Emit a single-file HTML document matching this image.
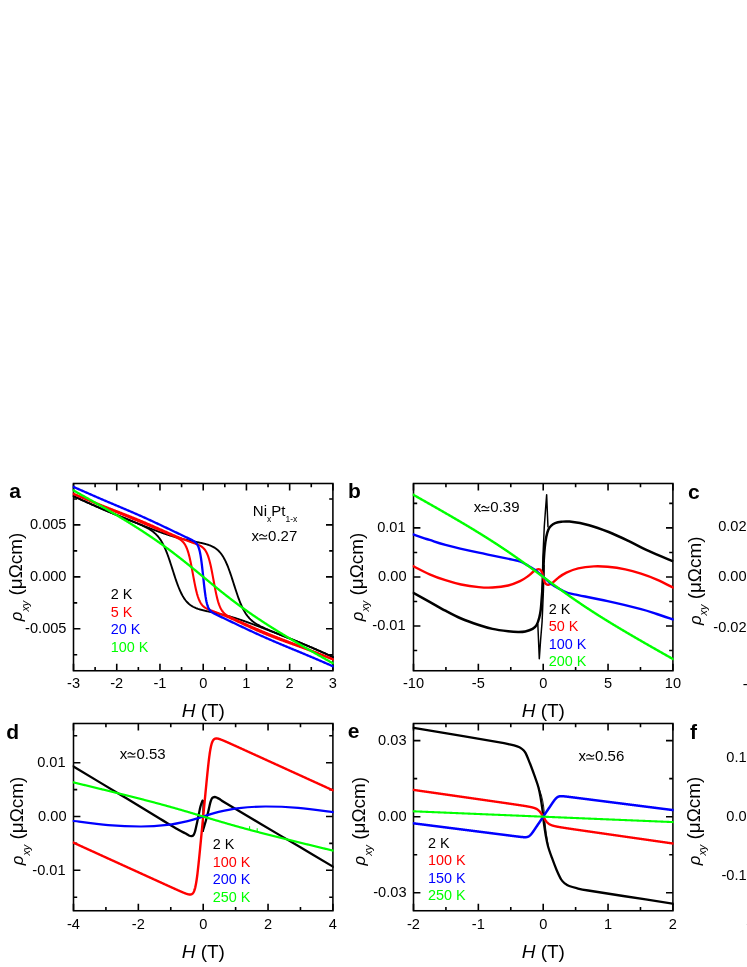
<!DOCTYPE html>
<html><head><meta charset="utf-8"><title>Figure</title>
<style>html,body{margin:0;padding:0;background:#fff;}svg{display:block;will-change:transform;}</style></head>
<body>
<svg width="747" height="967" viewBox="0 0 747 967" font-family='"Liberation Sans", sans-serif' fill="#000">
<rect width="747" height="967" fill="#fff"/>
<defs>
<clipPath id="ca"><rect x="72.70" y="482.70" width="261.00" height="188.85"/></clipPath>
<clipPath id="cb"><rect x="412.70" y="482.70" width="261.00" height="188.85"/></clipPath>
<clipPath id="cd"><rect x="72.70" y="722.70" width="261.00" height="188.85"/></clipPath>
<clipPath id="ce"><rect x="412.70" y="722.70" width="261.00" height="188.85"/></clipPath>
</defs>
<rect x="73.50" y="483.50" width="259.40" height="187.25" fill="none" stroke="#000" stroke-width="1.55"/>
<path d="M73.51,670.75 V663.85 M73.51,483.50 V490.40 M116.74,670.75 V663.85 M116.74,483.50 V490.40 M159.97,670.75 V663.85 M159.97,483.50 V490.40 M203.20,670.75 V663.85 M203.20,483.50 V490.40 M246.43,670.75 V663.85 M246.43,483.50 V490.40 M289.66,670.75 V663.85 M289.66,483.50 V490.40 M332.89,670.75 V663.85 M332.89,483.50 V490.40 M95.12,670.75 V667.05 M95.12,483.50 V487.20 M138.35,670.75 V667.05 M138.35,483.50 V487.20 M181.58,670.75 V667.05 M181.58,483.50 V487.20 M224.81,670.75 V667.05 M224.81,483.50 V487.20 M268.04,670.75 V667.05 M268.04,483.50 V487.20 M311.27,670.75 V667.05 M311.27,483.50 V487.20 M73.50,628.80 H80.40 M332.90,628.80 H326.00 M73.50,576.85 H80.40 M332.90,576.85 H326.00 M73.50,524.90 H80.40 M332.90,524.90 H326.00 M73.50,654.77 H77.20 M332.90,654.77 H329.20 M73.50,602.83 H77.20 M332.90,602.83 H329.20 M73.50,550.88 H77.20 M332.90,550.88 H329.20 M73.50,498.93 H77.20 M332.90,498.93 H329.20 " stroke="#000" stroke-width="1.6" fill="none"/>
<text x="73.51" y="688.45" text-anchor="middle" font-size="14.6">-3</text>
<text x="116.74" y="688.45" text-anchor="middle" font-size="14.6">-2</text>
<text x="159.97" y="688.45" text-anchor="middle" font-size="14.6">-1</text>
<text x="203.20" y="688.45" text-anchor="middle" font-size="14.6">0</text>
<text x="246.43" y="688.45" text-anchor="middle" font-size="14.6">1</text>
<text x="289.66" y="688.45" text-anchor="middle" font-size="14.6">2</text>
<text x="332.89" y="688.45" text-anchor="middle" font-size="14.6">3</text>
<text x="66.50" y="529.30" text-anchor="end" font-size="14.6">0.005</text>
<text x="66.50" y="581.25" text-anchor="end" font-size="14.6">0.000</text>
<text x="66.50" y="633.20" text-anchor="end" font-size="14.6">-0.005</text>
<text x="9.30" y="498.00" font-size="21" font-weight="bold">a</text>
<text transform="translate(21.70,577.00) rotate(-90)" text-anchor="middle" font-size="18.9"><tspan font-style="italic" font-size="16.8">ρ</tspan><tspan font-style="italic" font-size="10.8" dy="6.8">xy</tspan><tspan dy="-6.8"> (μΩcm)</tspan></text>
<text x="203.30" y="716.70" text-anchor="middle" font-size="19"><tspan font-style="italic">H</tspan> (T)</text>
<text x="110.70" y="598.90" font-size="14.4" fill="#000000">2 K</text>
<text x="110.70" y="616.50" font-size="14.4" fill="#ff0000">5 K</text>
<text x="110.70" y="634.10" font-size="14.4" fill="#0000ff">20 K</text>
<text x="110.70" y="651.70" font-size="14.4" fill="#00ff00">100 K</text>
<text x="252.8" y="516.4" font-size="15">Ni<tspan font-size="8.5" dy="5.4">x</tspan><tspan dy="-5.4">Pt</tspan><tspan font-size="8.5" dy="5.4">1-x</tspan></text>
<text x="251.50" y="540.60" font-size="15">x</text>
<path d="M259.30,536.10 c1.3,-1.9 2.6,-1.9 3.9,-0.7 s2.6,1.2 3.9,-0.7" fill="none" stroke="#000" stroke-width="1.1"/>
<path d="M259.30,538.80 h7.8" fill="none" stroke="#000" stroke-width="1.1"/>
<text x="268.10" y="540.60" font-size="15">0.27</text>
<rect x="413.50" y="483.50" width="259.40" height="187.25" fill="none" stroke="#000" stroke-width="1.55"/>
<path d="M413.50,670.75 V663.85 M413.50,483.50 V490.40 M478.35,670.75 V663.85 M478.35,483.50 V490.40 M543.20,670.75 V663.85 M543.20,483.50 V490.40 M608.05,670.75 V663.85 M608.05,483.50 V490.40 M672.90,670.75 V663.85 M672.90,483.50 V490.40 M445.93,670.75 V667.05 M445.93,483.50 V487.20 M510.78,670.75 V667.05 M510.78,483.50 V487.20 M575.62,670.75 V667.05 M575.62,483.50 V487.20 M640.48,670.75 V667.05 M640.48,483.50 V487.20 M413.50,626.00 H420.40 M672.90,626.00 H666.00 M413.50,576.95 H420.40 M672.90,576.95 H666.00 M413.50,527.90 H420.40 M672.90,527.90 H666.00 M413.50,650.53 H417.20 M672.90,650.53 H669.20 M413.50,601.48 H417.20 M672.90,601.48 H669.20 M413.50,552.43 H417.20 M672.90,552.43 H669.20 M413.50,503.38 H417.20 M672.90,503.38 H669.20 " stroke="#000" stroke-width="1.6" fill="none"/>
<text x="413.50" y="688.45" text-anchor="middle" font-size="14.6">-10</text>
<text x="478.35" y="688.45" text-anchor="middle" font-size="14.6">-5</text>
<text x="543.20" y="688.45" text-anchor="middle" font-size="14.6">0</text>
<text x="608.05" y="688.45" text-anchor="middle" font-size="14.6">5</text>
<text x="672.90" y="688.45" text-anchor="middle" font-size="14.6">10</text>
<text x="405.60" y="532.30" text-anchor="end" font-size="14.6">0.01</text>
<text x="406.50" y="581.35" text-anchor="end" font-size="14.6">0.00</text>
<text x="405.60" y="630.40" text-anchor="end" font-size="14.6">-0.01</text>
<text x="348.00" y="498.40" font-size="21" font-weight="bold">b</text>
<text transform="translate(362.50,577.00) rotate(-90)" text-anchor="middle" font-size="18.9"><tspan font-style="italic" font-size="16.8">ρ</tspan><tspan font-style="italic" font-size="10.8" dy="6.8">xy</tspan><tspan dy="-6.8"> (μΩcm)</tspan></text>
<text x="543.30" y="716.70" text-anchor="middle" font-size="19"><tspan font-style="italic">H</tspan> (T)</text>
<text x="548.70" y="613.60" font-size="14.4" fill="#000000">2 K</text>
<text x="548.70" y="631.20" font-size="14.4" fill="#ff0000">50 K</text>
<text x="548.70" y="648.80" font-size="14.4" fill="#0000ff">100 K</text>
<text x="548.70" y="666.40" font-size="14.4" fill="#00ff00">200 K</text>
<text x="473.70" y="512.40" font-size="15">x</text>
<path d="M481.50,507.90 c1.3,-1.9 2.6,-1.9 3.9,-0.7 s2.6,1.2 3.9,-0.7" fill="none" stroke="#000" stroke-width="1.1"/>
<path d="M481.50,510.60 h7.8" fill="none" stroke="#000" stroke-width="1.1"/>
<text x="490.30" y="512.40" font-size="15">0.39</text>
<rect x="73.50" y="723.50" width="259.40" height="187.25" fill="none" stroke="#000" stroke-width="1.55"/>
<path d="M73.50,910.75 V903.85 M73.50,723.50 V730.40 M138.35,910.75 V903.85 M138.35,723.50 V730.40 M203.20,910.75 V903.85 M203.20,723.50 V730.40 M268.05,910.75 V903.85 M268.05,723.50 V730.40 M332.90,910.75 V903.85 M332.90,723.50 V730.40 M105.92,910.75 V907.05 M105.92,723.50 V727.20 M170.77,910.75 V907.05 M170.77,723.50 V727.20 M235.62,910.75 V907.05 M235.62,723.50 V727.20 M300.47,910.75 V907.05 M300.47,723.50 V727.20 M73.50,870.30 H80.40 M332.90,870.30 H326.00 M73.50,816.50 H80.40 M332.90,816.50 H326.00 M73.50,762.70 H80.40 M332.90,762.70 H326.00 M73.50,897.20 H77.20 M332.90,897.20 H329.20 M73.50,843.40 H77.20 M332.90,843.40 H329.20 M73.50,789.60 H77.20 M332.90,789.60 H329.20 M73.50,735.80 H77.20 M332.90,735.80 H329.20 " stroke="#000" stroke-width="1.6" fill="none"/>
<text x="73.50" y="928.95" text-anchor="middle" font-size="14.6">-4</text>
<text x="138.35" y="928.95" text-anchor="middle" font-size="14.6">-2</text>
<text x="203.20" y="928.95" text-anchor="middle" font-size="14.6">0</text>
<text x="268.05" y="928.95" text-anchor="middle" font-size="14.6">2</text>
<text x="332.90" y="928.95" text-anchor="middle" font-size="14.6">4</text>
<text x="65.60" y="767.10" text-anchor="end" font-size="14.6">0.01</text>
<text x="66.50" y="820.90" text-anchor="end" font-size="14.6">0.00</text>
<text x="65.60" y="874.70" text-anchor="end" font-size="14.6">-0.01</text>
<text x="6.20" y="739.20" font-size="21" font-weight="bold">d</text>
<text transform="translate(22.70,821.00) rotate(-90)" text-anchor="middle" font-size="18.9"><tspan font-style="italic" font-size="16.8">ρ</tspan><tspan font-style="italic" font-size="10.8" dy="6.8">xy</tspan><tspan dy="-6.8"> (μΩcm)</tspan></text>
<text x="203.30" y="958.00" text-anchor="middle" font-size="19"><tspan font-style="italic">H</tspan> (T)</text>
<text x="212.70" y="848.90" font-size="14.4" fill="#000000">2 K</text>
<text x="212.70" y="866.50" font-size="14.4" fill="#ff0000">100 K</text>
<text x="212.70" y="884.10" font-size="14.4" fill="#0000ff">200 K</text>
<text x="212.70" y="901.70" font-size="14.4" fill="#00ff00">250 K</text>
<text x="119.80" y="758.70" font-size="15">x</text>
<path d="M127.60,754.20 c1.3,-1.9 2.6,-1.9 3.9,-0.7 s2.6,1.2 3.9,-0.7" fill="none" stroke="#000" stroke-width="1.1"/>
<path d="M127.60,756.90 h7.8" fill="none" stroke="#000" stroke-width="1.1"/>
<text x="136.40" y="758.70" font-size="15">0.53</text>
<rect x="413.50" y="723.50" width="259.40" height="187.25" fill="none" stroke="#000" stroke-width="1.55"/>
<path d="M413.50,910.75 V903.85 M413.50,723.50 V730.40 M478.35,910.75 V903.85 M478.35,723.50 V730.40 M543.20,910.75 V903.85 M543.20,723.50 V730.40 M608.05,910.75 V903.85 M608.05,723.50 V730.40 M672.90,910.75 V903.85 M672.90,723.50 V730.40 M445.93,910.75 V907.05 M445.93,723.50 V727.20 M510.78,910.75 V907.05 M510.78,723.50 V727.20 M575.62,910.75 V907.05 M575.62,723.50 V727.20 M640.48,910.75 V907.05 M640.48,723.50 V727.20 M413.50,892.81 H420.40 M672.90,892.81 H666.00 M413.50,816.70 H420.40 M672.90,816.70 H666.00 M413.50,740.59 H420.40 M672.90,740.59 H666.00 M413.50,854.75 H417.20 M672.90,854.75 H669.20 M413.50,778.65 H417.20 M672.90,778.65 H669.20 " stroke="#000" stroke-width="1.6" fill="none"/>
<text x="413.50" y="928.95" text-anchor="middle" font-size="14.6">-2</text>
<text x="478.35" y="928.95" text-anchor="middle" font-size="14.6">-1</text>
<text x="543.20" y="928.95" text-anchor="middle" font-size="14.6">0</text>
<text x="608.05" y="928.95" text-anchor="middle" font-size="14.6">1</text>
<text x="672.90" y="928.95" text-anchor="middle" font-size="14.6">2</text>
<text x="406.50" y="744.99" text-anchor="end" font-size="14.6">0.03</text>
<text x="406.50" y="821.10" text-anchor="end" font-size="14.6">0.00</text>
<text x="406.50" y="897.21" text-anchor="end" font-size="14.6">-0.03</text>
<text x="347.70" y="738.40" font-size="21" font-weight="bold">e</text>
<text transform="translate(365.40,821.20) rotate(-90)" text-anchor="middle" font-size="18.9"><tspan font-style="italic" font-size="16.8">ρ</tspan><tspan font-style="italic" font-size="10.8" dy="6.8">xy</tspan><tspan dy="-6.8"> (μΩcm)</tspan></text>
<text x="543.30" y="958.00" text-anchor="middle" font-size="19"><tspan font-style="italic">H</tspan> (T)</text>
<text x="428.00" y="847.50" font-size="14.4" fill="#000000">2 K</text>
<text x="428.00" y="865.10" font-size="14.4" fill="#ff0000">100 K</text>
<text x="428.00" y="882.70" font-size="14.4" fill="#0000ff">150 K</text>
<text x="428.00" y="900.30" font-size="14.4" fill="#00ff00">250 K</text>
<text x="578.50" y="760.70" font-size="15">x</text>
<path d="M586.30,756.20 c1.3,-1.9 2.6,-1.9 3.9,-0.7 s2.6,1.2 3.9,-0.7" fill="none" stroke="#000" stroke-width="1.1"/>
<path d="M586.30,758.90 h7.8" fill="none" stroke="#000" stroke-width="1.1"/>
<text x="595.10" y="760.70" font-size="15">0.56</text>
<text x="688.00" y="499.30" font-size="21" font-weight="bold">c</text>
<text transform="translate(700.60,580.80) rotate(-90)" text-anchor="middle" font-size="18.9"><tspan font-style="italic" font-size="16.8">ρ</tspan><tspan font-style="italic" font-size="10.8" dy="6.8">xy</tspan><tspan dy="-6.8"> (μΩcm)</tspan></text>
<text x="746.6" y="530.80" text-anchor="end" font-size="14.6">0.02</text>
<text x="746.6" y="581.30" text-anchor="end" font-size="14.6">0.00</text>
<text x="746.6" y="631.70" text-anchor="end" font-size="14.6">-0.02</text>
<text x="742.8" y="689.0" font-size="14.6">-10</text>
<text x="690.00" y="738.70" font-size="21" font-weight="bold">f</text>
<text transform="translate(699.60,821.00) rotate(-90)" text-anchor="middle" font-size="18.9"><tspan font-style="italic" font-size="16.8">ρ</tspan><tspan font-style="italic" font-size="10.8" dy="6.8">xy</tspan><tspan dy="-6.8"> (μΩcm)</tspan></text>
<text x="746.6" y="761.70" text-anchor="end" font-size="14.6">0.1</text>
<text x="746.6" y="820.80" text-anchor="end" font-size="14.6">0.0</text>
<text x="746.6" y="879.80" text-anchor="end" font-size="14.6">-0.1</text>
<text x="746.3" y="929.0" font-size="14.6">-2</text>
<path d="M72.50,495.72 L73.00,495.95 L73.50,496.18 L74.00,496.41 L74.50,496.64 L75.00,496.87 L75.50,497.10 L76.00,497.32 L76.50,497.55 L77.00,497.78 L77.50,498.01 L78.00,498.24 L78.50,498.47 L79.00,498.70 L79.50,498.92 L80.00,499.15 L80.50,499.38 L81.00,499.61 L81.50,499.84 L82.00,500.07 L82.50,500.29 L83.00,500.52 L83.50,500.75 L84.00,500.98 L84.50,501.20 L85.00,501.43 L85.50,501.66 L86.00,501.88 L86.50,502.11 L87.00,502.34 L87.50,502.56 L88.00,502.79 L88.50,503.02 L89.00,503.24 L89.50,503.47 L90.00,503.69 L90.50,503.91 L91.00,504.14 L91.50,504.36 L92.00,504.59 L92.50,504.81 L93.00,505.03 L93.50,505.25 L94.00,505.48 L94.50,505.70 L95.00,505.92 L95.50,506.14 L96.00,506.36 L96.50,506.58 L97.00,506.80 L97.50,507.02 L98.00,507.24 L98.50,507.46 L99.00,507.68 L99.50,507.89 L100.00,508.11 L100.50,508.33 L101.00,508.54 L101.50,508.76 L102.00,508.97 L102.50,509.19 L103.00,509.40 L103.50,509.62 L104.00,509.83 L104.50,510.04 L105.00,510.26 L105.50,510.47 L106.00,510.68 L106.50,510.89 L107.00,511.10 L107.50,511.31 L108.00,511.52 L108.50,511.73 L109.00,511.94 L109.50,512.15 L110.00,512.36 L110.50,512.56 L111.00,512.77 L111.50,512.98 L112.00,513.18 L112.50,513.39 L113.00,513.60 L113.50,513.80 L114.00,514.01 L114.50,514.21 L115.00,514.42 L115.50,514.62 L116.00,514.82 L116.50,515.03 L117.00,515.23 L117.50,515.43 L118.00,515.64 L118.50,515.84 L119.00,516.04 L119.50,516.24 L120.00,516.44 L120.50,516.65 L121.00,516.85 L121.50,517.05 L122.00,517.25 L122.50,517.45 L123.00,517.65 L123.50,517.85 L124.00,518.05 L124.50,518.25 L125.00,518.45 L125.50,518.65 L126.00,518.85 L126.50,519.05 L127.00,519.25 L127.50,519.45 L128.00,519.65 L128.50,519.85 L129.00,520.05 L129.50,520.25 L130.00,520.45 L130.50,520.65 L131.00,520.85 L131.50,521.05 L132.00,521.25 L132.50,521.44 L133.00,521.64 L133.50,521.84 L134.00,522.04 L134.50,522.24 L135.00,522.44 L135.50,522.64 L136.00,522.84 L136.50,523.04 L137.00,523.23 L137.50,523.43 L138.00,523.63 L138.50,523.83 L139.00,524.03 L139.50,524.23 L140.00,524.42 L140.50,524.62 L141.00,524.82 L141.50,525.02 L142.00,525.22 L142.50,525.41 L143.00,525.61 L143.50,525.81 L144.00,526.01 L144.50,526.20 L145.00,526.40 L145.50,526.60 L146.00,526.79 L146.50,526.99 L147.00,527.18 L147.50,527.38 L148.00,527.57 L148.50,527.77 L149.00,527.96 L149.50,528.16 L150.00,528.35 L150.50,528.54 L151.00,528.73 L151.50,528.93 L152.00,529.12 L152.50,529.31 L153.00,529.50 L153.50,529.69 L154.00,529.88 L154.50,530.07 L155.00,530.26 L155.50,530.44 L156.00,530.63 L156.50,530.82 L157.00,531.00 L157.50,531.19 L158.00,531.37 L158.50,531.55 L159.00,531.74 L159.50,531.92 L160.00,532.10 L160.50,532.28 L161.00,532.45 L161.50,532.63 L162.00,532.81 L162.50,532.98 L163.00,533.16 L163.50,533.33 L164.00,533.50 L164.50,533.68 L165.00,533.85 L165.50,534.01 L166.00,534.18 L166.50,534.35 L167.00,534.51 L167.50,534.68 L168.00,534.84 L168.50,535.00 L169.00,535.16 L169.50,535.32 L170.00,535.48 L170.50,535.64 L171.00,535.79 L171.50,535.95 L172.00,536.10 L172.50,536.25 L173.00,536.40 L173.50,536.55 L174.00,536.69 L174.50,536.84 L175.00,536.98 L175.50,537.12 L176.00,537.26 L176.50,537.40 L177.00,537.54 L177.50,537.68 L178.00,537.81 L178.50,537.95 L179.00,538.08 L179.50,538.21 L180.00,538.34 L180.50,538.47 L181.00,538.59 L181.50,538.72 L182.00,538.84 L182.50,538.97 L183.00,539.09 L183.50,539.21 L184.00,539.33 L184.50,539.44 L185.00,539.56 L185.50,539.67 L186.00,539.79 L186.50,539.90 L187.00,540.01 L187.50,540.12 L188.00,540.23 L188.50,540.34 L189.00,540.45 L189.50,540.55 L190.00,540.66 L190.50,540.77 L191.00,540.87 L191.50,540.97 L192.00,541.08 L192.50,541.18 L193.00,541.28 L193.50,541.38 L194.00,541.48 L194.50,541.59 L195.00,541.69 L195.50,541.79 L196.00,541.89 L196.50,541.99 L197.00,542.09 L197.50,542.19 L198.00,542.30 L198.50,542.40 L199.00,542.50 L199.50,542.61 L200.00,542.72 L200.50,542.82 L201.00,542.93 L201.50,543.04 L202.00,543.16 L202.50,543.27 L203.00,543.39 L203.50,543.51 L204.00,543.63 L204.50,543.76 L205.00,543.89 L205.50,544.02 L206.00,544.16 L206.50,544.31 L207.00,544.45 L207.50,544.61 L208.00,544.77 L208.50,544.93 L209.00,545.11 L209.50,545.29 L210.00,545.48 L210.50,545.67 L211.00,545.88 L211.50,546.10 L212.00,546.33 L212.50,546.57 L213.00,546.82 L213.50,547.09 L214.00,547.37 L214.50,547.67 L215.00,547.99 L215.50,548.32 L216.00,548.68 L216.50,549.05 L217.00,549.45 L217.50,549.87 L218.00,550.32 L218.50,550.79 L219.00,551.29 L219.50,551.83 L220.00,552.39 L220.50,552.99 L221.00,553.62 L221.50,554.29 L222.00,555.00 L222.50,555.75 L223.00,556.54 L223.50,557.38 L224.00,558.25 L224.50,559.18 L225.00,560.15 L225.50,561.16 L226.00,562.23 L226.50,563.34 L227.00,564.50 L227.50,565.70 L228.00,566.95 L228.50,568.25 L229.00,569.59 L229.50,570.96 L230.00,572.38 L230.50,573.83 L231.00,575.31 L231.50,576.81 L232.00,578.34 L232.50,579.89 L233.00,581.45 L233.50,583.01 L234.00,584.59 L234.50,586.16 L235.00,587.72 L235.50,589.27 L236.00,590.81 L236.50,592.32 L237.00,593.81 L237.50,595.27 L238.00,596.70 L238.50,598.10 L239.00,599.45 L239.50,600.77 L240.00,602.04 L240.50,603.27 L241.00,604.46 L241.50,605.60 L242.00,606.70 L242.50,607.75 L243.00,608.76 L243.50,609.73 L244.00,610.65 L244.50,611.53 L245.00,612.37 L245.50,613.17 L246.00,613.94 L246.50,614.66 L247.00,615.36 L247.50,616.02 L248.00,616.64 L248.50,617.24 L249.00,617.81 L249.50,618.36 L250.00,618.88 L250.50,619.38 L251.00,619.85 L251.50,620.31 L252.00,620.74 L252.50,621.16 L253.00,621.56 L253.50,621.95 L254.00,622.32 L254.50,622.68 L255.00,623.02 L255.50,623.36 L256.00,623.68 L256.50,623.99 L257.00,624.30 L257.50,624.59 L258.00,624.88 L258.50,625.16 L259.00,625.44 L259.50,625.71 L260.00,625.97 L260.50,626.23 L261.00,626.48 L261.50,626.73 L262.00,626.97 L262.50,627.21 L263.00,627.45 L263.50,627.68 L264.00,627.91 L264.50,628.14 L265.00,628.36 L265.50,628.59 L266.00,628.81 L266.50,629.03 L267.00,629.24 L267.50,629.46 L268.00,629.67 L268.50,629.89 L269.00,630.10 L269.50,630.31 L270.00,630.52 L270.50,630.72 L271.00,630.93 L271.50,631.14 L272.00,631.34 L272.50,631.55 L273.00,631.75 L273.50,631.96 L274.00,632.16 L274.50,632.36 L275.00,632.56 L275.50,632.76 L276.00,632.96 L276.50,633.17 L277.00,633.37 L277.50,633.57 L278.00,633.77 L278.50,633.97 L279.00,634.17 L279.50,634.36 L280.00,634.56 L280.50,634.76 L281.00,634.96 L281.50,635.16 L282.00,635.36 L282.50,635.56 L283.00,635.76 L283.50,635.96 L284.00,636.15 L284.50,636.35 L285.00,636.55 L285.50,636.75 L286.00,636.95 L286.50,637.15 L287.00,637.35 L287.50,637.55 L288.00,637.75 L288.50,637.95 L289.00,638.15 L289.50,638.35 L290.00,638.55 L290.50,638.75 L291.00,638.95 L291.50,639.15 L292.00,639.35 L292.50,639.55 L293.00,639.75 L293.50,639.95 L294.00,640.16 L294.50,640.36 L295.00,640.56 L295.50,640.76 L296.00,640.97 L296.50,641.17 L297.00,641.37 L297.50,641.58 L298.00,641.78 L298.50,641.99 L299.00,642.19 L299.50,642.40 L300.00,642.60 L300.50,642.81 L301.00,643.02 L301.50,643.22 L302.00,643.43 L302.50,643.64 L303.00,643.85 L303.50,644.05 L304.00,644.26 L304.50,644.47 L305.00,644.68 L305.50,644.89 L306.00,645.10 L306.50,645.31 L307.00,645.52 L307.50,645.74 L308.00,645.95 L308.50,646.16 L309.00,646.37 L309.50,646.59 L310.00,646.80 L310.50,647.01 L311.00,647.23 L311.50,647.44 L312.00,647.66 L312.50,647.88 L313.00,648.09 L313.50,648.31 L314.00,648.53 L314.50,648.74 L315.00,648.96 L315.50,649.18 L316.00,649.40 L316.50,649.62 L317.00,649.84 L317.50,650.06 L318.00,650.28 L318.50,650.50 L319.00,650.72 L319.50,650.94 L320.00,651.16 L320.50,651.38 L321.00,651.61 L321.50,651.83 L322.00,652.05 L322.50,652.27 L323.00,652.50 L323.50,652.72 L324.00,652.95 L324.50,653.17 L325.00,653.40 L325.50,653.62 L326.00,653.85 L326.50,654.07 L327.00,654.30 L327.50,654.53 L328.00,654.76 L328.50,654.98 L329.00,655.21 L329.50,655.44 L330.00,655.67 L330.50,655.89 L331.00,656.12 L331.50,656.35 L332.00,656.58 L332.50,656.81 L333.00,657.04 L333.50,657.27 L333.90,657.45" fill="none" stroke="#000000" stroke-width="1.90" stroke-linejoin="round" stroke-linecap="butt" clip-path="url(#ca)"/>
<path d="M72.50,495.71 L73.00,495.94 L73.50,496.17 L74.00,496.39 L74.50,496.62 L75.00,496.85 L75.50,497.08 L76.00,497.31 L76.50,497.53 L77.00,497.76 L77.50,497.99 L78.00,498.22 L78.50,498.45 L79.00,498.67 L79.50,498.90 L80.00,499.13 L80.50,499.36 L81.00,499.58 L81.50,499.81 L82.00,500.04 L82.50,500.26 L83.00,500.49 L83.50,500.72 L84.00,500.94 L84.50,501.17 L85.00,501.40 L85.50,501.62 L86.00,501.85 L86.50,502.07 L87.00,502.30 L87.50,502.52 L88.00,502.75 L88.50,502.97 L89.00,503.20 L89.50,503.42 L90.00,503.65 L90.50,503.87 L91.00,504.09 L91.50,504.31 L92.00,504.54 L92.50,504.76 L93.00,504.98 L93.50,505.20 L94.00,505.42 L94.50,505.64 L95.00,505.86 L95.50,506.08 L96.00,506.30 L96.50,506.52 L97.00,506.74 L97.50,506.95 L98.00,507.17 L98.50,507.39 L99.00,507.60 L99.50,507.82 L100.00,508.03 L100.50,508.25 L101.00,508.46 L101.50,508.68 L102.00,508.89 L102.50,509.10 L103.00,509.32 L103.50,509.53 L104.00,509.74 L104.50,509.95 L105.00,510.16 L105.50,510.37 L106.00,510.58 L106.50,510.79 L107.00,511.00 L107.50,511.21 L108.00,511.41 L108.50,511.62 L109.00,511.83 L109.50,512.04 L110.00,512.24 L110.50,512.45 L111.00,512.65 L111.50,512.86 L112.00,513.06 L112.50,513.27 L113.00,513.47 L113.50,513.67 L114.00,513.88 L114.50,514.08 L115.00,514.28 L115.50,514.49 L116.00,514.69 L116.50,514.89 L117.00,515.09 L117.50,515.29 L118.00,515.50 L118.50,515.70 L119.00,515.90 L119.50,516.10 L120.00,516.30 L120.50,516.50 L121.00,516.70 L121.50,516.90 L122.00,517.10 L122.50,517.30 L123.00,517.50 L123.50,517.70 L124.00,517.90 L124.50,518.10 L125.00,518.30 L125.50,518.50 L126.00,518.70 L126.50,518.90 L127.00,519.10 L127.50,519.31 L128.00,519.51 L128.50,519.71 L129.00,519.91 L129.50,520.11 L130.00,520.31 L130.50,520.52 L131.00,520.72 L131.50,520.92 L132.00,521.13 L132.50,521.33 L133.00,521.54 L133.50,521.74 L134.00,521.95 L134.50,522.16 L135.00,522.36 L135.50,522.57 L136.00,522.78 L136.50,522.99 L137.00,523.20 L137.50,523.42 L138.00,523.63 L138.50,523.85 L139.00,524.06 L139.50,524.28 L140.00,524.50 L140.50,524.72 L141.00,524.95 L141.50,525.17 L142.00,525.40 L142.50,525.63 L143.00,525.87 L143.50,526.11 L144.00,526.35 L144.50,526.59 L145.00,526.84 L145.50,527.09 L146.00,527.35 L146.50,527.61 L147.00,527.88 L147.50,528.15 L148.00,528.43 L148.50,528.71 L149.00,529.01 L149.50,529.31 L150.00,529.62 L150.50,529.94 L151.00,530.27 L151.50,530.60 L152.00,530.96 L152.50,531.32 L153.00,531.70 L153.50,532.09 L154.00,532.50 L154.50,532.92 L155.00,533.37 L155.50,533.83 L156.00,534.31 L156.50,534.81 L157.00,535.34 L157.50,535.90 L158.00,536.48 L158.50,537.08 L159.00,537.72 L159.50,538.39 L160.00,539.10 L160.50,539.83 L161.00,540.61 L161.50,541.42 L162.00,542.27 L162.50,543.16 L163.00,544.10 L163.50,545.07 L164.00,546.09 L164.50,547.16 L165.00,548.27 L165.50,549.42 L166.00,550.62 L166.50,551.86 L167.00,553.15 L167.50,554.48 L168.00,555.84 L168.50,557.25 L169.00,558.69 L169.50,560.16 L170.00,561.65 L170.50,563.18 L171.00,564.72 L171.50,566.27 L172.00,567.84 L172.50,569.41 L173.00,570.99 L173.50,572.56 L174.00,574.12 L174.50,575.66 L175.00,577.19 L175.50,578.69 L176.00,580.17 L176.50,581.61 L177.00,583.02 L177.50,584.39 L178.00,585.72 L178.50,587.01 L179.00,588.25 L179.50,589.45 L180.00,590.60 L180.50,591.70 L181.00,592.76 L181.50,593.77 L182.00,594.73 L182.50,595.65 L183.00,596.52 L183.50,597.35 L184.00,598.13 L184.50,598.87 L185.00,599.57 L185.50,600.24 L186.00,600.87 L186.50,601.46 L187.00,602.02 L187.50,602.55 L188.00,603.04 L188.50,603.51 L189.00,603.96 L189.50,604.37 L190.00,604.77 L190.50,605.14 L191.00,605.49 L191.50,605.82 L192.00,606.14 L192.50,606.43 L193.00,606.72 L193.50,606.98 L194.00,607.23 L194.50,607.47 L195.00,607.70 L195.50,607.92 L196.00,608.13 L196.50,608.32 L197.00,608.51 L197.50,608.69 L198.00,608.87 L198.50,609.03 L199.00,609.19 L199.50,609.34 L200.00,609.49 L200.50,609.64 L201.00,609.78 L201.50,609.91 L202.00,610.04 L202.50,610.17 L203.00,610.29 L203.50,610.41 L204.00,610.53 L204.50,610.65 L205.00,610.76 L205.50,610.88 L206.00,610.99 L206.50,611.10 L207.00,611.21 L207.50,611.31 L208.00,611.42 L208.50,611.52 L209.00,611.63 L209.50,611.73 L210.00,611.84 L210.50,611.94 L211.00,612.04 L211.50,612.15 L212.00,612.25 L212.50,612.35 L213.00,612.46 L213.50,612.56 L214.00,612.67 L214.50,612.77 L215.00,612.88 L215.50,612.98 L216.00,613.09 L216.50,613.20 L217.00,613.30 L217.50,613.41 L218.00,613.52 L218.50,613.64 L219.00,613.75 L219.50,613.86 L220.00,613.97 L220.50,614.09 L221.00,614.21 L221.50,614.32 L222.00,614.44 L222.50,614.56 L223.00,614.68 L223.50,614.81 L224.00,614.93 L224.50,615.06 L225.00,615.18 L225.50,615.31 L226.00,615.44 L226.50,615.57 L227.00,615.70 L227.50,615.84 L228.00,615.97 L228.50,616.11 L229.00,616.25 L229.50,616.39 L230.00,616.53 L230.50,616.67 L231.00,616.81 L231.50,616.96 L232.00,617.10 L232.50,617.25 L233.00,617.40 L233.50,617.55 L234.00,617.70 L234.50,617.85 L235.00,618.01 L235.50,618.16 L236.00,618.32 L236.50,618.48 L237.00,618.64 L237.50,618.80 L238.00,618.96 L238.50,619.13 L239.00,619.29 L239.50,619.46 L240.00,619.62 L240.50,619.79 L241.00,619.96 L241.50,620.13 L242.00,620.30 L242.50,620.47 L243.00,620.65 L243.50,620.82 L244.00,621.00 L244.50,621.17 L245.00,621.35 L245.50,621.53 L246.00,621.71 L246.50,621.89 L247.00,622.07 L247.50,622.25 L248.00,622.43 L248.50,622.62 L249.00,622.80 L249.50,622.98 L250.00,623.17 L250.50,623.35 L251.00,623.54 L251.50,623.73 L252.00,623.91 L252.50,624.10 L253.00,624.29 L253.50,624.48 L254.00,624.67 L254.50,624.86 L255.00,625.05 L255.50,625.24 L256.00,625.43 L256.50,625.62 L257.00,625.81 L257.50,626.01 L258.00,626.20 L258.50,626.39 L259.00,626.58 L259.50,626.78 L260.00,626.97 L260.50,627.16 L261.00,627.36 L261.50,627.55 L262.00,627.75 L262.50,627.94 L263.00,628.14 L263.50,628.33 L264.00,628.52 L264.50,628.72 L265.00,628.91 L265.50,629.11 L266.00,629.30 L266.50,629.50 L267.00,629.69 L267.50,629.89 L268.00,630.08 L268.50,630.28 L269.00,630.47 L269.50,630.67 L270.00,630.86 L270.50,631.06 L271.00,631.25 L271.50,631.45 L272.00,631.64 L272.50,631.84 L273.00,632.03 L273.50,632.23 L274.00,632.42 L274.50,632.62 L275.00,632.81 L275.50,633.01 L276.00,633.20 L276.50,633.40 L277.00,633.59 L277.50,633.79 L278.00,633.98 L278.50,634.18 L279.00,634.37 L279.50,634.57 L280.00,634.76 L280.50,634.96 L281.00,635.15 L281.50,635.35 L282.00,635.54 L282.50,635.74 L283.00,635.93 L283.50,636.13 L284.00,636.33 L284.50,636.52 L285.00,636.72 L285.50,636.91 L286.00,637.11 L286.50,637.31 L287.00,637.50 L287.50,637.70 L288.00,637.90 L288.50,638.09 L289.00,638.29 L289.50,638.49 L290.00,638.69 L290.50,638.88 L291.00,639.08 L291.50,639.28 L292.00,639.48 L292.50,639.68 L293.00,639.88 L293.50,640.08 L294.00,640.28 L294.50,640.48 L295.00,640.68 L295.50,640.88 L296.00,641.08 L296.50,641.28 L297.00,641.48 L297.50,641.68 L298.00,641.88 L298.50,642.09 L299.00,642.29 L299.50,642.49 L300.00,642.70 L300.50,642.90 L301.00,643.11 L301.50,643.31 L302.00,643.52 L302.50,643.72 L303.00,643.93 L303.50,644.13 L304.00,644.34 L304.50,644.55 L305.00,644.76 L305.50,644.96 L306.00,645.17 L306.50,645.38 L307.00,645.59 L307.50,645.80 L308.00,646.01 L308.50,646.22 L309.00,646.43 L309.50,646.65 L310.00,646.86 L310.50,647.07 L311.00,647.28 L311.50,647.50 L312.00,647.71 L312.50,647.93 L313.00,648.14 L313.50,648.36 L314.00,648.57 L314.50,648.79 L315.00,649.00 L315.50,649.22 L316.00,649.44 L316.50,649.66 L317.00,649.87 L317.50,650.09 L318.00,650.31 L318.50,650.53 L319.00,650.75 L319.50,650.97 L320.00,651.19 L320.50,651.41 L321.00,651.64 L321.50,651.86 L322.00,652.08 L322.50,652.30 L323.00,652.52 L323.50,652.75 L324.00,652.97 L324.50,653.20 L325.00,653.42 L325.50,653.65 L326.00,653.87 L326.50,654.10 L327.00,654.32 L327.50,654.55 L328.00,654.77 L328.50,655.00 L329.00,655.23 L329.50,655.45 L330.00,655.68 L330.50,655.91 L331.00,656.14 L331.50,656.37 L332.00,656.60 L332.50,656.82 L333.00,657.05 L333.50,657.28 L333.90,657.47" fill="none" stroke="#000000" stroke-width="1.90" stroke-linejoin="round" stroke-linecap="butt" clip-path="url(#ca)"/>
<path d="M72.50,493.45 L73.00,493.65 L73.50,493.86 L74.00,494.06 L74.50,494.26 L75.00,494.47 L75.50,494.67 L76.00,494.88 L76.50,495.08 L77.00,495.28 L77.50,495.49 L78.00,495.69 L78.50,495.90 L79.00,496.10 L79.50,496.30 L80.00,496.51 L80.50,496.71 L81.00,496.92 L81.50,497.12 L82.00,497.33 L82.50,497.53 L83.00,497.74 L83.50,497.94 L84.00,498.14 L84.50,498.35 L85.00,498.55 L85.50,498.76 L86.00,498.96 L86.50,499.17 L87.00,499.37 L87.50,499.57 L88.00,499.78 L88.50,499.98 L89.00,500.18 L89.50,500.39 L90.00,500.59 L90.50,500.79 L91.00,501.00 L91.50,501.20 L92.00,501.40 L92.50,501.61 L93.00,501.81 L93.50,502.01 L94.00,502.21 L94.50,502.41 L95.00,502.62 L95.50,502.82 L96.00,503.02 L96.50,503.22 L97.00,503.42 L97.50,503.62 L98.00,503.82 L98.50,504.02 L99.00,504.22 L99.50,504.42 L100.00,504.62 L100.50,504.82 L101.00,505.02 L101.50,505.21 L102.00,505.41 L102.50,505.61 L103.00,505.81 L103.50,506.01 L104.00,506.20 L104.50,506.40 L105.00,506.60 L105.50,506.79 L106.00,506.99 L106.50,507.19 L107.00,507.38 L107.50,507.58 L108.00,507.77 L108.50,507.97 L109.00,508.16 L109.50,508.36 L110.00,508.55 L110.50,508.75 L111.00,508.94 L111.50,509.14 L112.00,509.33 L112.50,509.53 L113.00,509.72 L113.50,509.91 L114.00,510.11 L114.50,510.30 L115.00,510.50 L115.50,510.69 L116.00,510.88 L116.50,511.08 L117.00,511.27 L117.50,511.47 L118.00,511.66 L118.50,511.85 L119.00,512.05 L119.50,512.24 L120.00,512.44 L120.50,512.63 L121.00,512.83 L121.50,513.02 L122.00,513.22 L122.50,513.41 L123.00,513.61 L123.50,513.80 L124.00,514.00 L124.50,514.19 L125.00,514.39 L125.50,514.59 L126.00,514.78 L126.50,514.98 L127.00,515.18 L127.50,515.37 L128.00,515.57 L128.50,515.77 L129.00,515.97 L129.50,516.17 L130.00,516.37 L130.50,516.57 L131.00,516.77 L131.50,516.97 L132.00,517.17 L132.50,517.37 L133.00,517.57 L133.50,517.77 L134.00,517.98 L134.50,518.18 L135.00,518.38 L135.50,518.59 L136.00,518.79 L136.50,519.00 L137.00,519.20 L137.50,519.41 L138.00,519.61 L138.50,519.82 L139.00,520.03 L139.50,520.23 L140.00,520.44 L140.50,520.65 L141.00,520.86 L141.50,521.07 L142.00,521.28 L142.50,521.49 L143.00,521.70 L143.50,521.91 L144.00,522.13 L144.50,522.34 L145.00,522.55 L145.50,522.77 L146.00,522.98 L146.50,523.19 L147.00,523.41 L147.50,523.62 L148.00,523.84 L148.50,524.06 L149.00,524.27 L149.50,524.49 L150.00,524.71 L150.50,524.93 L151.00,525.15 L151.50,525.36 L152.00,525.58 L152.50,525.80 L153.00,526.02 L153.50,526.24 L154.00,526.46 L154.50,526.68 L155.00,526.91 L155.50,527.13 L156.00,527.35 L156.50,527.57 L157.00,527.79 L157.50,528.01 L158.00,528.24 L158.50,528.46 L159.00,528.68 L159.50,528.91 L160.00,529.13 L160.50,529.35 L161.00,529.57 L161.50,529.80 L162.00,530.02 L162.50,530.24 L163.00,530.47 L163.50,530.69 L164.00,530.91 L164.50,531.14 L165.00,531.36 L165.50,531.58 L166.00,531.81 L166.50,532.03 L167.00,532.25 L167.50,532.47 L168.00,532.70 L168.50,532.92 L169.00,533.14 L169.50,533.36 L170.00,533.58 L170.50,533.80 L171.00,534.02 L171.50,534.24 L172.00,534.46 L172.50,534.68 L173.00,534.89 L173.50,535.11 L174.00,535.33 L174.50,535.54 L175.00,535.76 L175.50,535.97 L176.00,536.19 L176.50,536.40 L177.00,536.61 L177.50,536.82 L178.00,537.03 L178.50,537.24 L179.00,537.45 L179.50,537.66 L180.00,537.86 L180.50,538.07 L181.00,538.27 L181.50,538.48 L182.00,538.68 L182.50,538.88 L183.00,539.08 L183.50,539.28 L184.00,539.47 L184.50,539.67 L185.00,539.86 L185.50,540.06 L186.00,540.25 L186.50,540.44 L187.00,540.63 L187.50,540.82 L188.00,541.00 L188.50,541.19 L189.00,541.37 L189.50,541.56 L190.00,541.74 L190.50,541.92 L191.00,542.10 L191.50,542.28 L192.00,542.46 L192.50,542.64 L193.00,542.82 L193.50,543.00 L194.00,543.18 L194.50,543.36 L195.00,543.55 L195.50,543.73 L196.00,543.92 L196.50,544.12 L197.00,544.31 L197.50,544.52 L198.00,544.73 L198.50,544.95 L199.00,545.18 L199.50,545.42 L200.00,545.67 L200.50,545.95 L201.00,546.24 L201.50,546.56 L202.00,546.91 L202.50,547.29 L203.00,547.72 L203.50,548.18 L204.00,548.71 L204.50,549.29 L205.00,549.94 L205.50,550.67 L206.00,551.50 L206.50,552.42 L207.00,553.47 L207.50,554.63 L208.00,555.94 L208.50,557.39 L209.00,559.00 L209.50,560.78 L210.00,562.72 L210.50,564.82 L211.00,567.08 L211.50,569.48 L212.00,572.01 L212.50,574.63 L213.00,577.33 L213.50,580.06 L214.00,582.80 L214.50,585.50 L215.00,588.13 L215.50,590.67 L216.00,593.09 L216.50,595.36 L217.00,597.48 L217.50,599.44 L218.00,601.24 L218.50,602.88 L219.00,604.36 L219.50,605.70 L220.00,606.90 L220.50,607.98 L221.00,608.94 L221.50,609.80 L222.00,610.58 L222.50,611.28 L223.00,611.90 L223.50,612.47 L224.00,612.99 L224.50,613.46 L225.00,613.89 L225.50,614.29 L226.00,614.66 L226.50,615.01 L227.00,615.34 L227.50,615.65 L228.00,615.94 L228.50,616.23 L229.00,616.50 L229.50,616.76 L230.00,617.02 L230.50,617.27 L231.00,617.52 L231.50,617.76 L232.00,618.00 L232.50,618.23 L233.00,618.46 L233.50,618.69 L234.00,618.92 L234.50,619.15 L235.00,619.38 L235.50,619.60 L236.00,619.83 L236.50,620.05 L237.00,620.28 L237.50,620.50 L238.00,620.72 L238.50,620.95 L239.00,621.17 L239.50,621.39 L240.00,621.61 L240.50,621.84 L241.00,622.06 L241.50,622.28 L242.00,622.51 L242.50,622.73 L243.00,622.95 L243.50,623.17 L244.00,623.39 L244.50,623.62 L245.00,623.84 L245.50,624.06 L246.00,624.28 L246.50,624.50 L247.00,624.72 L247.50,624.95 L248.00,625.17 L248.50,625.39 L249.00,625.61 L249.50,625.83 L250.00,626.05 L250.50,626.27 L251.00,626.49 L251.50,626.71 L252.00,626.92 L252.50,627.14 L253.00,627.36 L253.50,627.58 L254.00,627.80 L254.50,628.01 L255.00,628.23 L255.50,628.45 L256.00,628.66 L256.50,628.88 L257.00,629.09 L257.50,629.31 L258.00,629.52 L258.50,629.73 L259.00,629.95 L259.50,630.16 L260.00,630.37 L260.50,630.58 L261.00,630.79 L261.50,631.00 L262.00,631.21 L262.50,631.42 L263.00,631.63 L263.50,631.84 L264.00,632.05 L264.50,632.26 L265.00,632.46 L265.50,632.67 L266.00,632.88 L266.50,633.08 L267.00,633.29 L267.50,633.49 L268.00,633.70 L268.50,633.90 L269.00,634.10 L269.50,634.30 L270.00,634.51 L270.50,634.71 L271.00,634.91 L271.50,635.11 L272.00,635.31 L272.50,635.51 L273.00,635.71 L273.50,635.91 L274.00,636.11 L274.50,636.31 L275.00,636.50 L275.50,636.70 L276.00,636.90 L276.50,637.09 L277.00,637.29 L277.50,637.49 L278.00,637.68 L278.50,637.88 L279.00,638.07 L279.50,638.27 L280.00,638.46 L280.50,638.65 L281.00,638.85 L281.50,639.04 L282.00,639.24 L282.50,639.43 L283.00,639.62 L283.50,639.81 L284.00,640.01 L284.50,640.20 L285.00,640.39 L285.50,640.58 L286.00,640.77 L286.50,640.97 L287.00,641.16 L287.50,641.35 L288.00,641.54 L288.50,641.73 L289.00,641.92 L289.50,642.11 L290.00,642.30 L290.50,642.50 L291.00,642.69 L291.50,642.88 L292.00,643.07 L292.50,643.26 L293.00,643.45 L293.50,643.64 L294.00,643.83 L294.50,644.02 L295.00,644.21 L295.50,644.41 L296.00,644.60 L296.50,644.79 L297.00,644.98 L297.50,645.17 L298.00,645.36 L298.50,645.56 L299.00,645.75 L299.50,645.94 L300.00,646.13 L300.50,646.32 L301.00,646.52 L301.50,646.71 L302.00,646.90 L302.50,647.10 L303.00,647.29 L303.50,647.48 L304.00,647.68 L304.50,647.87 L305.00,648.06 L305.50,648.26 L306.00,648.45 L306.50,648.65 L307.00,648.84 L307.50,649.04 L308.00,649.23 L308.50,649.43 L309.00,649.63 L309.50,649.82 L310.00,650.02 L310.50,650.22 L311.00,650.41 L311.50,650.61 L312.00,650.81 L312.50,651.00 L313.00,651.20 L313.50,651.40 L314.00,651.60 L314.50,651.80 L315.00,652.00 L315.50,652.20 L316.00,652.40 L316.50,652.59 L317.00,652.79 L317.50,652.99 L318.00,653.19 L318.50,653.40 L319.00,653.60 L319.50,653.80 L320.00,654.00 L320.50,654.20 L321.00,654.40 L321.50,654.60 L322.00,654.81 L322.50,655.01 L323.00,655.21 L323.50,655.41 L324.00,655.62 L324.50,655.82 L325.00,656.02 L325.50,656.23 L326.00,656.43 L326.50,656.63 L327.00,656.84 L327.50,657.04 L328.00,657.25 L328.50,657.45 L329.00,657.66 L329.50,657.86 L330.00,658.07 L330.50,658.27 L331.00,658.48 L331.50,658.68 L332.00,658.89 L332.50,659.10 L333.00,659.30 L333.50,659.51 L333.90,659.67" fill="none" stroke="#ff0000" stroke-width="2.10" stroke-linejoin="round" stroke-linecap="butt" clip-path="url(#ca)"/>
<path d="M72.50,493.59 L73.00,493.79 L73.50,494.00 L74.00,494.21 L74.50,494.42 L75.00,494.63 L75.50,494.84 L76.00,495.05 L76.50,495.26 L77.00,495.47 L77.50,495.68 L78.00,495.89 L78.50,496.10 L79.00,496.31 L79.50,496.52 L80.00,496.73 L80.50,496.94 L81.00,497.15 L81.50,497.36 L82.00,497.57 L82.50,497.79 L83.00,498.00 L83.50,498.21 L84.00,498.42 L84.50,498.63 L85.00,498.85 L85.50,499.06 L86.00,499.27 L86.50,499.48 L87.00,499.70 L87.50,499.91 L88.00,500.12 L88.50,500.34 L89.00,500.55 L89.50,500.76 L90.00,500.97 L90.50,501.19 L91.00,501.40 L91.50,501.61 L92.00,501.83 L92.50,502.04 L93.00,502.25 L93.50,502.47 L94.00,502.68 L94.50,502.89 L95.00,503.10 L95.50,503.32 L96.00,503.53 L96.50,503.74 L97.00,503.95 L97.50,504.16 L98.00,504.38 L98.50,504.59 L99.00,504.80 L99.50,505.01 L100.00,505.22 L100.50,505.43 L101.00,505.65 L101.50,505.86 L102.00,506.07 L102.50,506.28 L103.00,506.49 L103.50,506.70 L104.00,506.91 L104.50,507.12 L105.00,507.33 L105.50,507.54 L106.00,507.75 L106.50,507.96 L107.00,508.17 L107.50,508.38 L108.00,508.59 L108.50,508.79 L109.00,509.00 L109.50,509.21 L110.00,509.42 L110.50,509.63 L111.00,509.84 L111.50,510.04 L112.00,510.25 L112.50,510.46 L113.00,510.67 L113.50,510.87 L114.00,511.08 L114.50,511.29 L115.00,511.49 L115.50,511.70 L116.00,511.91 L116.50,512.11 L117.00,512.32 L117.50,512.53 L118.00,512.73 L118.50,512.94 L119.00,513.15 L119.50,513.35 L120.00,513.56 L120.50,513.77 L121.00,513.97 L121.50,514.18 L122.00,514.38 L122.50,514.59 L123.00,514.80 L123.50,515.00 L124.00,515.21 L124.50,515.41 L125.00,515.62 L125.50,515.83 L126.00,516.03 L126.50,516.24 L127.00,516.44 L127.50,516.65 L128.00,516.86 L128.50,517.06 L129.00,517.27 L129.50,517.48 L130.00,517.68 L130.50,517.89 L131.00,518.10 L131.50,518.30 L132.00,518.51 L132.50,518.72 L133.00,518.93 L133.50,519.13 L134.00,519.34 L134.50,519.55 L135.00,519.76 L135.50,519.96 L136.00,520.17 L136.50,520.38 L137.00,520.59 L137.50,520.80 L138.00,521.01 L138.50,521.22 L139.00,521.42 L139.50,521.63 L140.00,521.84 L140.50,522.05 L141.00,522.26 L141.50,522.47 L142.00,522.68 L142.50,522.89 L143.00,523.10 L143.50,523.31 L144.00,523.52 L144.50,523.73 L145.00,523.94 L145.50,524.15 L146.00,524.37 L146.50,524.58 L147.00,524.79 L147.50,525.00 L148.00,525.21 L148.50,525.42 L149.00,525.63 L149.50,525.85 L150.00,526.06 L150.50,526.27 L151.00,526.48 L151.50,526.69 L152.00,526.91 L152.50,527.12 L153.00,527.33 L153.50,527.54 L154.00,527.76 L154.50,527.97 L155.00,528.18 L155.50,528.40 L156.00,528.61 L156.50,528.82 L157.00,529.03 L157.50,529.25 L158.00,529.46 L158.50,529.67 L159.00,529.89 L159.50,530.10 L160.00,530.31 L160.50,530.52 L161.00,530.74 L161.50,530.95 L162.00,531.16 L162.50,531.37 L163.00,531.59 L163.50,531.80 L164.00,532.01 L164.50,532.22 L165.00,532.43 L165.50,532.65 L166.00,532.86 L166.50,533.07 L167.00,533.28 L167.50,533.49 L168.00,533.71 L168.50,533.92 L169.00,534.13 L169.50,534.34 L170.00,534.56 L170.50,534.77 L171.00,534.98 L171.50,535.20 L172.00,535.41 L172.50,535.63 L173.00,535.85 L173.50,536.06 L174.00,536.29 L174.50,536.51 L175.00,536.74 L175.50,536.97 L176.00,537.20 L176.50,537.44 L177.00,537.69 L177.50,537.94 L178.00,538.21 L178.50,538.48 L179.00,538.77 L179.50,539.07 L180.00,539.39 L180.50,539.73 L181.00,540.10 L181.50,540.50 L182.00,540.93 L182.50,541.40 L183.00,541.91 L183.50,542.48 L184.00,543.11 L184.50,543.81 L185.00,544.60 L185.50,545.47 L186.00,546.45 L186.50,547.54 L187.00,548.76 L187.50,550.11 L188.00,551.62 L188.50,553.28 L189.00,555.10 L189.50,557.09 L190.00,559.23 L190.50,561.53 L191.00,563.97 L191.50,566.52 L192.00,569.16 L192.50,571.87 L193.00,574.60 L193.50,577.32 L194.00,580.00 L194.50,582.61 L195.00,585.10 L195.50,587.48 L196.00,589.70 L196.50,591.77 L197.00,593.67 L197.50,595.41 L198.00,596.98 L198.50,598.40 L199.00,599.68 L199.50,600.82 L200.00,601.83 L200.50,602.73 L201.00,603.54 L201.50,604.25 L202.00,604.89 L202.50,605.46 L203.00,605.97 L203.50,606.43 L204.00,606.84 L204.50,607.22 L205.00,607.56 L205.50,607.88 L206.00,608.17 L206.50,608.44 L207.00,608.70 L207.50,608.94 L208.00,609.17 L208.50,609.39 L209.00,609.60 L209.50,609.80 L210.00,610.00 L210.50,610.20 L211.00,610.39 L211.50,610.58 L212.00,610.77 L212.50,610.96 L213.00,611.14 L213.50,611.33 L214.00,611.51 L214.50,611.70 L215.00,611.89 L215.50,612.07 L216.00,612.26 L216.50,612.45 L217.00,612.64 L217.50,612.83 L218.00,613.02 L218.50,613.22 L219.00,613.41 L219.50,613.61 L220.00,613.81 L220.50,614.01 L221.00,614.21 L221.50,614.41 L222.00,614.62 L222.50,614.82 L223.00,615.03 L223.50,615.24 L224.00,615.45 L224.50,615.66 L225.00,615.87 L225.50,616.08 L226.00,616.30 L226.50,616.51 L227.00,616.73 L227.50,616.95 L228.00,617.17 L228.50,617.39 L229.00,617.61 L229.50,617.83 L230.00,618.06 L230.50,618.28 L231.00,618.51 L231.50,618.73 L232.00,618.96 L232.50,619.19 L233.00,619.42 L233.50,619.64 L234.00,619.87 L234.50,620.10 L235.00,620.33 L235.50,620.57 L236.00,620.80 L236.50,621.03 L237.00,621.26 L237.50,621.49 L238.00,621.73 L238.50,621.96 L239.00,622.19 L239.50,622.42 L240.00,622.66 L240.50,622.89 L241.00,623.13 L241.50,623.36 L242.00,623.59 L242.50,623.83 L243.00,624.06 L243.50,624.29 L244.00,624.53 L244.50,624.76 L245.00,624.99 L245.50,625.22 L246.00,625.46 L246.50,625.69 L247.00,625.92 L247.50,626.15 L248.00,626.38 L248.50,626.61 L249.00,626.84 L249.50,627.07 L250.00,627.30 L250.50,627.53 L251.00,627.76 L251.50,627.99 L252.00,628.21 L252.50,628.44 L253.00,628.66 L253.50,628.89 L254.00,629.11 L254.50,629.34 L255.00,629.56 L255.50,629.78 L256.00,630.01 L256.50,630.23 L257.00,630.45 L257.50,630.67 L258.00,630.89 L258.50,631.10 L259.00,631.32 L259.50,631.54 L260.00,631.75 L260.50,631.97 L261.00,632.18 L261.50,632.39 L262.00,632.61 L262.50,632.82 L263.00,633.03 L263.50,633.24 L264.00,633.45 L264.50,633.66 L265.00,633.86 L265.50,634.07 L266.00,634.28 L266.50,634.48 L267.00,634.68 L267.50,634.89 L268.00,635.09 L268.50,635.29 L269.00,635.49 L269.50,635.69 L270.00,635.89 L270.50,636.09 L271.00,636.29 L271.50,636.48 L272.00,636.68 L272.50,636.87 L273.00,637.07 L273.50,637.26 L274.00,637.45 L274.50,637.65 L275.00,637.84 L275.50,638.03 L276.00,638.22 L276.50,638.41 L277.00,638.60 L277.50,638.79 L278.00,638.97 L278.50,639.16 L279.00,639.35 L279.50,639.53 L280.00,639.72 L280.50,639.90 L281.00,640.09 L281.50,640.27 L282.00,640.45 L282.50,640.64 L283.00,640.82 L283.50,641.00 L284.00,641.18 L284.50,641.36 L285.00,641.54 L285.50,641.72 L286.00,641.90 L286.50,642.08 L287.00,642.26 L287.50,642.44 L288.00,642.62 L288.50,642.80 L289.00,642.98 L289.50,643.16 L290.00,643.34 L290.50,643.52 L291.00,643.69 L291.50,643.87 L292.00,644.05 L292.50,644.23 L293.00,644.41 L293.50,644.58 L294.00,644.76 L294.50,644.94 L295.00,645.12 L295.50,645.30 L296.00,645.47 L296.50,645.65 L297.00,645.83 L297.50,646.01 L298.00,646.19 L298.50,646.36 L299.00,646.54 L299.50,646.72 L300.00,646.90 L300.50,647.08 L301.00,647.26 L301.50,647.44 L302.00,647.62 L302.50,647.80 L303.00,647.98 L303.50,648.16 L304.00,648.34 L304.50,648.52 L305.00,648.70 L305.50,648.89 L306.00,649.07 L306.50,649.25 L307.00,649.43 L307.50,649.62 L308.00,649.80 L308.50,649.98 L309.00,650.17 L309.50,650.35 L310.00,650.54 L310.50,650.72 L311.00,650.91 L311.50,651.10 L312.00,651.28 L312.50,651.47 L313.00,651.66 L313.50,651.84 L314.00,652.03 L314.50,652.22 L315.00,652.41 L315.50,652.60 L316.00,652.79 L316.50,652.98 L317.00,653.17 L317.50,653.36 L318.00,653.55 L318.50,653.74 L319.00,653.93 L319.50,654.12 L320.00,654.32 L320.50,654.51 L321.00,654.70 L321.50,654.90 L322.00,655.09 L322.50,655.28 L323.00,655.48 L323.50,655.67 L324.00,655.87 L324.50,656.07 L325.00,656.26 L325.50,656.46 L326.00,656.66 L326.50,656.85 L327.00,657.05 L327.50,657.25 L328.00,657.45 L328.50,657.65 L329.00,657.84 L329.50,658.04 L330.00,658.24 L330.50,658.44 L331.00,658.64 L331.50,658.84 L332.00,659.04 L332.50,659.25 L333.00,659.45 L333.50,659.65 L333.90,659.81" fill="none" stroke="#ff0000" stroke-width="2.10" stroke-linejoin="round" stroke-linecap="butt" clip-path="url(#ca)"/>
<path d="M72.50,486.49 L73.00,486.70 L73.50,486.92 L74.00,487.14 L74.50,487.36 L75.00,487.58 L75.50,487.79 L76.00,488.01 L76.50,488.23 L77.00,488.45 L77.50,488.67 L78.00,488.89 L78.50,489.11 L79.00,489.33 L79.50,489.55 L80.00,489.76 L80.50,489.98 L81.00,490.20 L81.50,490.42 L82.00,490.64 L82.50,490.86 L83.00,491.08 L83.50,491.30 L84.00,491.52 L84.50,491.74 L85.00,491.96 L85.50,492.18 L86.00,492.40 L86.50,492.62 L87.00,492.84 L87.50,493.06 L88.00,493.28 L88.50,493.50 L89.00,493.72 L89.50,493.94 L90.00,494.16 L90.50,494.38 L91.00,494.60 L91.50,494.82 L92.00,495.03 L92.50,495.25 L93.00,495.47 L93.50,495.69 L94.00,495.91 L94.50,496.13 L95.00,496.34 L95.50,496.56 L96.00,496.78 L96.50,497.00 L97.00,497.21 L97.50,497.43 L98.00,497.65 L98.50,497.87 L99.00,498.08 L99.50,498.30 L100.00,498.51 L100.50,498.73 L101.00,498.95 L101.50,499.16 L102.00,499.38 L102.50,499.59 L103.00,499.81 L103.50,500.02 L104.00,500.24 L104.50,500.45 L105.00,500.66 L105.50,500.88 L106.00,501.09 L106.50,501.30 L107.00,501.52 L107.50,501.73 L108.00,501.94 L108.50,502.16 L109.00,502.37 L109.50,502.58 L110.00,502.79 L110.50,503.00 L111.00,503.22 L111.50,503.43 L112.00,503.64 L112.50,503.85 L113.00,504.06 L113.50,504.27 L114.00,504.48 L114.50,504.69 L115.00,504.91 L115.50,505.12 L116.00,505.33 L116.50,505.54 L117.00,505.75 L117.50,505.96 L118.00,506.17 L118.50,506.38 L119.00,506.59 L119.50,506.80 L120.00,507.01 L120.50,507.23 L121.00,507.44 L121.50,507.65 L122.00,507.86 L122.50,508.07 L123.00,508.28 L123.50,508.49 L124.00,508.71 L124.50,508.92 L125.00,509.13 L125.50,509.34 L126.00,509.55 L126.50,509.77 L127.00,509.98 L127.50,510.19 L128.00,510.41 L128.50,510.62 L129.00,510.83 L129.50,511.05 L130.00,511.26 L130.50,511.48 L131.00,511.69 L131.50,511.91 L132.00,512.12 L132.50,512.34 L133.00,512.56 L133.50,512.77 L134.00,512.99 L134.50,513.21 L135.00,513.43 L135.50,513.64 L136.00,513.86 L136.50,514.08 L137.00,514.30 L137.50,514.52 L138.00,514.74 L138.50,514.96 L139.00,515.18 L139.50,515.40 L140.00,515.62 L140.50,515.85 L141.00,516.07 L141.50,516.29 L142.00,516.51 L142.50,516.74 L143.00,516.96 L143.50,517.19 L144.00,517.41 L144.50,517.64 L145.00,517.86 L145.50,518.09 L146.00,518.31 L146.50,518.54 L147.00,518.77 L147.50,519.00 L148.00,519.22 L148.50,519.45 L149.00,519.68 L149.50,519.91 L150.00,520.14 L150.50,520.37 L151.00,520.60 L151.50,520.83 L152.00,521.06 L152.50,521.29 L153.00,521.53 L153.50,521.76 L154.00,521.99 L154.50,522.22 L155.00,522.46 L155.50,522.69 L156.00,522.92 L156.50,523.16 L157.00,523.39 L157.50,523.63 L158.00,523.86 L158.50,524.10 L159.00,524.33 L159.50,524.57 L160.00,524.80 L160.50,525.04 L161.00,525.27 L161.50,525.51 L162.00,525.75 L162.50,525.98 L163.00,526.22 L163.50,526.46 L164.00,526.69 L164.50,526.93 L165.00,527.17 L165.50,527.41 L166.00,527.64 L166.50,527.88 L167.00,528.12 L167.50,528.36 L168.00,528.60 L168.50,528.83 L169.00,529.07 L169.50,529.31 L170.00,529.55 L170.50,529.79 L171.00,530.03 L171.50,530.26 L172.00,530.50 L172.50,530.74 L173.00,530.98 L173.50,531.22 L174.00,531.46 L174.50,531.70 L175.00,531.93 L175.50,532.17 L176.00,532.41 L176.50,532.65 L177.00,532.89 L177.50,533.13 L178.00,533.36 L178.50,533.60 L179.00,533.84 L179.50,534.08 L180.00,534.32 L180.50,534.55 L181.00,534.79 L181.50,535.03 L182.00,535.27 L182.50,535.51 L183.00,535.74 L183.50,535.98 L184.00,536.22 L184.50,536.46 L185.00,536.69 L185.50,536.93 L186.00,537.17 L186.50,537.41 L187.00,537.65 L187.50,537.88 L188.00,538.12 L188.50,538.36 L189.00,538.61 L189.50,538.85 L190.00,539.09 L190.50,539.34 L191.00,539.59 L191.50,539.85 L192.00,540.11 L192.50,540.38 L193.00,540.66 L193.50,540.96 L194.00,541.27 L194.50,541.62 L195.00,542.00 L195.50,542.42 L196.00,542.90 L196.50,543.47 L197.00,544.14 L197.50,544.94 L198.00,545.91 L198.50,547.10 L199.00,548.56 L199.50,550.34 L200.00,552.52 L200.50,555.14 L201.00,558.24 L201.50,561.83 L202.00,565.88 L202.50,570.31 L203.00,574.98 L203.50,579.72 L204.00,584.35 L204.50,588.71 L205.00,592.68 L205.50,596.17 L206.00,599.18 L206.50,601.70 L207.00,603.79 L207.50,605.51 L208.00,606.91 L208.50,608.05 L209.00,608.99 L209.50,609.76 L210.00,610.40 L210.50,610.95 L211.00,611.42 L211.50,611.84 L212.00,612.21 L212.50,612.54 L213.00,612.86 L213.50,613.15 L214.00,613.43 L214.50,613.70 L215.00,613.96 L215.50,614.21 L216.00,614.47 L216.50,614.71 L217.00,614.96 L217.50,615.20 L218.00,615.44 L218.50,615.68 L219.00,615.92 L219.50,616.16 L220.00,616.40 L220.50,616.64 L221.00,616.87 L221.50,617.11 L222.00,617.35 L222.50,617.59 L223.00,617.83 L223.50,618.06 L224.00,618.30 L224.50,618.54 L225.00,618.78 L225.50,619.02 L226.00,619.25 L226.50,619.49 L227.00,619.73 L227.50,619.97 L228.00,620.21 L228.50,620.45 L229.00,620.68 L229.50,620.92 L230.00,621.16 L230.50,621.40 L231.00,621.64 L231.50,621.88 L232.00,622.12 L232.50,622.35 L233.00,622.59 L233.50,622.83 L234.00,623.07 L234.50,623.31 L235.00,623.55 L235.50,623.78 L236.00,624.02 L236.50,624.26 L237.00,624.50 L237.50,624.74 L238.00,624.98 L238.50,625.21 L239.00,625.45 L239.50,625.69 L240.00,625.93 L240.50,626.16 L241.00,626.40 L241.50,626.64 L242.00,626.87 L242.50,627.11 L243.00,627.35 L243.50,627.58 L244.00,627.82 L244.50,628.06 L245.00,628.29 L245.50,628.53 L246.00,628.76 L246.50,629.00 L247.00,629.23 L247.50,629.47 L248.00,629.70 L248.50,629.93 L249.00,630.17 L249.50,630.40 L250.00,630.63 L250.50,630.87 L251.00,631.10 L251.50,631.33 L252.00,631.56 L252.50,631.79 L253.00,632.02 L253.50,632.25 L254.00,632.48 L254.50,632.71 L255.00,632.94 L255.50,633.17 L256.00,633.40 L256.50,633.63 L257.00,633.86 L257.50,634.09 L258.00,634.31 L258.50,634.54 L259.00,634.77 L259.50,634.99 L260.00,635.22 L260.50,635.44 L261.00,635.67 L261.50,635.89 L262.00,636.11 L262.50,636.34 L263.00,636.56 L263.50,636.78 L264.00,637.01 L264.50,637.23 L265.00,637.45 L265.50,637.67 L266.00,637.89 L266.50,638.11 L267.00,638.33 L267.50,638.55 L268.00,638.77 L268.50,638.98 L269.00,639.20 L269.50,639.42 L270.00,639.64 L270.50,639.85 L271.00,640.07 L271.50,640.29 L272.00,640.50 L272.50,640.72 L273.00,640.93 L273.50,641.15 L274.00,641.36 L274.50,641.57 L275.00,641.79 L275.50,642.00 L276.00,642.21 L276.50,642.43 L277.00,642.64 L277.50,642.85 L278.00,643.06 L278.50,643.27 L279.00,643.48 L279.50,643.69 L280.00,643.90 L280.50,644.11 L281.00,644.32 L281.50,644.53 L282.00,644.74 L282.50,644.95 L283.00,645.16 L283.50,645.37 L284.00,645.58 L284.50,645.79 L285.00,646.00 L285.50,646.21 L286.00,646.41 L286.50,646.62 L287.00,646.83 L287.50,647.04 L288.00,647.24 L288.50,647.45 L289.00,647.66 L289.50,647.87 L290.00,648.07 L290.50,648.28 L291.00,648.49 L291.50,648.70 L292.00,648.90 L292.50,649.11 L293.00,649.32 L293.50,649.52 L294.00,649.73 L294.50,649.94 L295.00,650.15 L295.50,650.35 L296.00,650.56 L296.50,650.77 L297.00,650.98 L297.50,651.18 L298.00,651.39 L298.50,651.60 L299.00,651.81 L299.50,652.01 L300.00,652.22 L300.50,652.43 L301.00,652.64 L301.50,652.85 L302.00,653.05 L302.50,653.26 L303.00,653.47 L303.50,653.68 L304.00,653.89 L304.50,654.10 L305.00,654.31 L305.50,654.52 L306.00,654.73 L306.50,654.94 L307.00,655.15 L307.50,655.36 L308.00,655.57 L308.50,655.78 L309.00,655.99 L309.50,656.20 L310.00,656.41 L310.50,656.62 L311.00,656.83 L311.50,657.04 L312.00,657.25 L312.50,657.47 L313.00,657.68 L313.50,657.89 L314.00,658.10 L314.50,658.32 L315.00,658.53 L315.50,658.74 L316.00,658.95 L316.50,659.17 L317.00,659.38 L317.50,659.60 L318.00,659.81 L318.50,660.02 L319.00,660.24 L319.50,660.45 L320.00,660.67 L320.50,660.88 L321.00,661.10 L321.50,661.31 L322.00,661.53 L322.50,661.74 L323.00,661.96 L323.50,662.17 L324.00,662.39 L324.50,662.61 L325.00,662.82 L325.50,663.04 L326.00,663.26 L326.50,663.47 L327.00,663.69 L327.50,663.91 L328.00,664.12 L328.50,664.34 L329.00,664.56 L329.50,664.78 L330.00,665.00 L330.50,665.21 L331.00,665.43 L331.50,665.65 L332.00,665.87 L332.50,666.09 L333.00,666.31 L333.50,666.52 L333.90,666.70" fill="none" stroke="#0000ff" stroke-width="2.30" stroke-linejoin="round" stroke-linecap="butt" clip-path="url(#ca)"/>
<path d="M72.50,489.85 L73.00,490.13 L73.50,490.41 L74.00,490.69 L74.50,490.97 L75.00,491.25 L75.50,491.53 L76.00,491.81 L76.50,492.10 L77.00,492.38 L77.50,492.66 L78.00,492.94 L78.50,493.22 L79.00,493.50 L79.50,493.78 L80.00,494.06 L80.50,494.35 L81.00,494.63 L81.50,494.91 L82.00,495.19 L82.50,495.47 L83.00,495.76 L83.50,496.04 L84.00,496.32 L84.50,496.60 L85.00,496.89 L85.50,497.17 L86.00,497.45 L86.50,497.73 L87.00,498.02 L87.50,498.30 L88.00,498.59 L88.50,498.87 L89.00,499.15 L89.50,499.44 L90.00,499.72 L90.50,500.01 L91.00,500.29 L91.50,500.57 L92.00,500.86 L92.50,501.14 L93.00,501.43 L93.50,501.72 L94.00,502.00 L94.50,502.29 L95.00,502.57 L95.50,502.86 L96.00,503.15 L96.50,503.43 L97.00,503.72 L97.50,504.01 L98.00,504.29 L98.50,504.58 L99.00,504.87 L99.50,505.16 L100.00,505.44 L100.50,505.73 L101.00,506.02 L101.50,506.31 L102.00,506.60 L102.50,506.89 L103.00,507.18 L103.50,507.47 L104.00,507.76 L104.50,508.05 L105.00,508.34 L105.50,508.63 L106.00,508.92 L106.50,509.21 L107.00,509.50 L107.50,509.79 L108.00,510.08 L108.50,510.38 L109.00,510.67 L109.50,510.96 L110.00,511.26 L110.50,511.55 L111.00,511.84 L111.50,512.14 L112.00,512.43 L112.50,512.73 L113.00,513.02 L113.50,513.32 L114.00,513.61 L114.50,513.91 L115.00,514.21 L115.50,514.50 L116.00,514.80 L116.50,515.10 L117.00,515.40 L117.50,515.69 L118.00,515.99 L118.50,516.29 L119.00,516.59 L119.50,516.89 L120.00,517.19 L120.50,517.49 L121.00,517.79 L121.50,518.09 L122.00,518.40 L122.50,518.70 L123.00,519.00 L123.50,519.30 L124.00,519.61 L124.50,519.91 L125.00,520.22 L125.50,520.52 L126.00,520.83 L126.50,521.13 L127.00,521.44 L127.50,521.75 L128.00,522.06 L128.50,522.36 L129.00,522.67 L129.50,522.98 L130.00,523.29 L130.50,523.60 L131.00,523.91 L131.50,524.22 L132.00,524.54 L132.50,524.85 L133.00,525.16 L133.50,525.47 L134.00,525.79 L134.50,526.10 L135.00,526.42 L135.50,526.74 L136.00,527.05 L136.50,527.37 L137.00,527.69 L137.50,528.01 L138.00,528.32 L138.50,528.64 L139.00,528.96 L139.50,529.29 L140.00,529.61 L140.50,529.93 L141.00,530.25 L141.50,530.58 L142.00,530.90 L142.50,531.23 L143.00,531.55 L143.50,531.88 L144.00,532.21 L144.50,532.54 L145.00,532.86 L145.50,533.19 L146.00,533.53 L146.50,533.86 L147.00,534.19 L147.50,534.52 L148.00,534.85 L148.50,535.19 L149.00,535.52 L149.50,535.86 L150.00,536.20 L150.50,536.54 L151.00,536.87 L151.50,537.21 L152.00,537.55 L152.50,537.89 L153.00,538.24 L153.50,538.58 L154.00,538.92 L154.50,539.27 L155.00,539.61 L155.50,539.96 L156.00,540.31 L156.50,540.65 L157.00,541.00 L157.50,541.35 L158.00,541.70 L158.50,542.05 L159.00,542.41 L159.50,542.76 L160.00,543.11 L160.50,543.47 L161.00,543.83 L161.50,544.18 L162.00,544.54 L162.50,544.90 L163.00,545.26 L163.50,545.62 L164.00,545.98 L164.50,546.35 L165.00,546.71 L165.50,547.07 L166.00,547.44 L166.50,547.81 L167.00,548.17 L167.50,548.54 L168.00,548.91 L168.50,549.28 L169.00,549.65 L169.50,550.02 L170.00,550.40 L170.50,550.77 L171.00,551.15 L171.50,551.52 L172.00,551.90 L172.50,552.28 L173.00,552.66 L173.50,553.04 L174.00,553.42 L174.50,553.80 L175.00,554.18 L175.50,554.56 L176.00,554.95 L176.50,555.33 L177.00,555.72 L177.50,556.11 L178.00,556.49 L178.50,556.88 L179.00,557.27 L179.50,557.66 L180.00,558.05 L180.50,558.44 L181.00,558.84 L181.50,559.23 L182.00,559.62 L182.50,560.02 L183.00,560.41 L183.50,560.81 L184.00,561.21 L184.50,561.61 L185.00,562.00 L185.50,562.40 L186.00,562.80 L186.50,563.20 L187.00,563.61 L187.50,564.01 L188.00,564.41 L188.50,564.81 L189.00,565.22 L189.50,565.62 L190.00,566.03 L190.50,566.43 L191.00,566.84 L191.50,567.24 L192.00,567.65 L192.50,568.06 L193.00,568.47 L193.50,568.87 L194.00,569.28 L194.50,569.69 L195.00,570.10 L195.50,570.51 L196.00,570.92 L196.50,571.33 L197.00,571.74 L197.50,572.15 L198.00,572.56 L198.50,572.98 L199.00,573.39 L199.50,573.80 L200.00,574.21 L200.50,574.62 L201.00,575.04 L201.50,575.45 L202.00,575.86 L202.50,576.27 L203.00,576.69 L203.50,577.10 L204.00,577.51 L204.50,577.92 L205.00,578.33 L205.50,578.75 L206.00,579.16 L206.50,579.57 L207.00,579.98 L207.50,580.40 L208.00,580.81 L208.50,581.22 L209.00,581.63 L209.50,582.04 L210.00,582.45 L210.50,582.86 L211.00,583.27 L211.50,583.68 L212.00,584.09 L212.50,584.50 L213.00,584.91 L213.50,585.32 L214.00,585.72 L214.50,586.13 L215.00,586.54 L215.50,586.94 L216.00,587.35 L216.50,587.76 L217.00,588.16 L217.50,588.56 L218.00,588.97 L218.50,589.37 L219.00,589.77 L219.50,590.18 L220.00,590.58 L220.50,590.98 L221.00,591.38 L221.50,591.78 L222.00,592.17 L222.50,592.57 L223.00,592.97 L223.50,593.37 L224.00,593.76 L224.50,594.16 L225.00,594.55 L225.50,594.94 L226.00,595.34 L226.50,595.73 L227.00,596.12 L227.50,596.51 L228.00,596.90 L228.50,597.28 L229.00,597.67 L229.50,598.06 L230.00,598.44 L230.50,598.83 L231.00,599.21 L231.50,599.60 L232.00,599.98 L232.50,600.36 L233.00,600.74 L233.50,601.12 L234.00,601.50 L234.50,601.88 L235.00,602.25 L235.50,602.63 L236.00,603.00 L236.50,603.38 L237.00,603.75 L237.50,604.12 L238.00,604.49 L238.50,604.86 L239.00,605.23 L239.50,605.60 L240.00,605.97 L240.50,606.33 L241.00,606.70 L241.50,607.06 L242.00,607.43 L242.50,607.79 L243.00,608.15 L243.50,608.51 L244.00,608.87 L244.50,609.23 L245.00,609.59 L245.50,609.95 L246.00,610.30 L246.50,610.66 L247.00,611.01 L247.50,611.36 L248.00,611.72 L248.50,612.07 L249.00,612.42 L249.50,612.77 L250.00,613.12 L250.50,613.46 L251.00,613.81 L251.50,614.16 L252.00,614.50 L252.50,614.85 L253.00,615.19 L253.50,615.53 L254.00,615.87 L254.50,616.22 L255.00,616.56 L255.50,616.89 L256.00,617.23 L256.50,617.57 L257.00,617.91 L257.50,618.24 L258.00,618.58 L258.50,618.91 L259.00,619.25 L259.50,619.58 L260.00,619.91 L260.50,620.24 L261.00,620.57 L261.50,620.90 L262.00,621.23 L262.50,621.56 L263.00,621.89 L263.50,622.21 L264.00,622.54 L264.50,622.86 L265.00,623.19 L265.50,623.51 L266.00,623.83 L266.50,624.16 L267.00,624.48 L267.50,624.80 L268.00,625.12 L268.50,625.44 L269.00,625.76 L269.50,626.08 L270.00,626.39 L270.50,626.71 L271.00,627.03 L271.50,627.34 L272.00,627.66 L272.50,627.97 L273.00,628.29 L273.50,628.60 L274.00,628.91 L274.50,629.23 L275.00,629.54 L275.50,629.85 L276.00,630.16 L276.50,630.47 L277.00,630.78 L277.50,631.09 L278.00,631.40 L278.50,631.71 L279.00,632.01 L279.50,632.32 L280.00,632.63 L280.50,632.93 L281.00,633.24 L281.50,633.54 L282.00,633.85 L282.50,634.15 L283.00,634.46 L283.50,634.76 L284.00,635.06 L284.50,635.36 L285.00,635.67 L285.50,635.97 L286.00,636.27 L286.50,636.57 L287.00,636.87 L287.50,637.17 L288.00,637.47 L288.50,637.77 L289.00,638.07 L289.50,638.36 L290.00,638.66 L290.50,638.96 L291.00,639.26 L291.50,639.55 L292.00,639.85 L292.50,640.15 L293.00,640.44 L293.50,640.74 L294.00,641.03 L294.50,641.33 L295.00,641.62 L295.50,641.92 L296.00,642.21 L296.50,642.50 L297.00,642.80 L297.50,643.09 L298.00,643.38 L298.50,643.67 L299.00,643.97 L299.50,644.26 L300.00,644.55 L300.50,644.84 L301.00,645.13 L301.50,645.42 L302.00,645.71 L302.50,646.00 L303.00,646.29 L303.50,646.58 L304.00,646.87 L304.50,647.16 L305.00,647.45 L305.50,647.74 L306.00,648.03 L306.50,648.31 L307.00,648.60 L307.50,648.89 L308.00,649.18 L308.50,649.46 L309.00,649.75 L309.50,650.04 L310.00,650.33 L310.50,650.61 L311.00,650.90 L311.50,651.18 L312.00,651.47 L312.50,651.76 L313.00,652.04 L313.50,652.33 L314.00,652.61 L314.50,652.90 L315.00,653.18 L315.50,653.47 L316.00,653.75 L316.50,654.04 L317.00,654.32 L317.50,654.60 L318.00,654.89 L318.50,655.17 L319.00,655.46 L319.50,655.74 L320.00,656.02 L320.50,656.31 L321.00,656.59 L321.50,656.87 L322.00,657.15 L322.50,657.44 L323.00,657.72 L323.50,658.00 L324.00,658.28 L324.50,658.57 L325.00,658.85 L325.50,659.13 L326.00,659.41 L326.50,659.69 L327.00,659.97 L327.50,660.26 L328.00,660.54 L328.50,660.82 L329.00,661.10 L329.50,661.38 L330.00,661.66 L330.50,661.94 L331.00,662.22 L331.50,662.50 L332.00,662.78 L332.50,663.06 L333.00,663.34 L333.50,663.62 L333.90,663.85" fill="none" stroke="#00ff00" stroke-width="2.30" stroke-linejoin="round" stroke-linecap="butt" clip-path="url(#ca)"/>
<path d="M412.40,592.28 C415.27,593.87 424.10,598.73 429.60,601.80 C435.10,604.87 440.15,607.92 445.40,610.70 C450.65,613.48 455.53,616.12 461.10,618.50 C466.67,620.88 473.57,623.27 478.80,625.00 C484.03,626.73 487.60,627.85 492.50,628.90 C497.40,629.95 503.93,630.78 508.20,631.30 C512.47,631.82 515.25,631.97 518.10,632.00 C520.95,632.03 522.88,632.02 525.30,631.50 C527.72,630.98 530.70,630.02 532.60,628.90 C534.50,627.78 535.58,626.70 536.70,624.80 C537.82,622.90 538.62,620.08 539.30,617.50 C539.98,614.92 540.37,612.92 540.80,609.30 C541.23,605.68 541.55,600.18 541.90,595.80 C542.25,591.42 542.68,586.14 542.90,583.00 C543.12,579.86 543.05,580.78 543.20,576.95 C543.35,573.12 543.53,564.99 543.80,560.00 C544.07,555.01 544.38,550.88 544.80,547.00 C545.22,543.12 545.70,539.63 546.30,536.70 C546.90,533.77 547.62,531.22 548.40,529.40 C549.18,527.58 549.88,526.83 551.00,525.80 C552.12,524.77 553.38,523.87 555.10,523.20 C556.82,522.53 558.90,522.07 561.30,521.80 C563.70,521.53 564.87,521.03 569.50,521.60 C574.13,522.17 582.57,523.47 589.10,525.20 C595.63,526.93 602.15,529.38 608.70,532.00 C615.25,534.62 621.85,537.78 628.40,540.90 C634.95,544.02 640.53,547.27 648.00,550.70 C655.47,554.13 669.00,559.66 673.20,561.45" fill="none" stroke="#000000" stroke-width="2.50" stroke-linejoin="round" stroke-linecap="butt" clip-path="url(#cb)"/>
<path d="M542.00,592.00 L542.20,584.90 L542.90,557.30 L544.30,526.30 L545.80,505.70 L546.65,494.80 L547.10,505.70 L547.50,516.00 L548.00,527.50" fill="none" stroke="#000000" stroke-width="1.50" stroke-linejoin="round" stroke-linecap="butt" clip-path="url(#cb)"/>
<path d="M544.00,565.00 L543.90,570.00 L543.40,590.70 L542.10,621.70 L540.60,640.00 L539.30,658.80 L538.50,640.00 L537.80,623.70" fill="none" stroke="#000000" stroke-width="1.50" stroke-linejoin="round" stroke-linecap="butt" clip-path="url(#cb)"/>
<path d="M412.40,565.86 C415.27,567.27 424.10,571.91 429.60,574.30 C435.10,576.69 440.15,578.50 445.40,580.20 C450.65,581.90 455.53,583.35 461.10,584.50 C466.67,585.65 473.57,586.60 478.80,587.10 C484.03,587.60 487.60,587.77 492.50,587.50 C497.40,587.23 503.62,586.55 508.20,585.50 C512.78,584.45 516.72,582.73 520.00,581.20 C523.28,579.67 525.60,577.97 527.90,576.30 C530.20,574.63 532.20,572.37 533.80,571.20 C535.40,570.03 536.47,569.57 537.50,569.30 C538.53,569.03 539.27,569.12 540.00,569.60 C540.73,570.08 541.37,570.98 541.90,572.20 C542.43,573.43 542.77,575.37 543.20,576.95 C543.63,578.53 543.97,580.48 544.50,581.70 C545.03,582.93 545.67,583.82 546.40,584.30 C547.13,584.78 547.87,584.87 548.90,584.60 C549.93,584.33 551.00,583.87 552.60,582.70 C554.20,581.53 556.20,579.27 558.50,577.60 C560.80,575.93 563.12,574.23 566.40,572.70 C569.68,571.17 573.62,569.45 578.20,568.40 C582.78,567.35 589.00,566.67 593.90,566.40 C598.80,566.13 602.37,566.30 607.60,566.80 C612.83,567.30 619.73,568.25 625.30,569.40 C630.87,570.55 635.75,572.00 641.00,573.70 C646.25,575.40 651.30,577.21 656.80,579.60 C662.30,581.99 671.13,586.63 674.00,588.04" fill="none" stroke="#ff0000" stroke-width="2.40" stroke-linejoin="round" stroke-linecap="butt" clip-path="url(#cb)"/>
<path d="M412.40,534.17 C415.27,535.12 424.10,538.13 429.60,539.90 C435.10,541.67 437.20,542.67 445.40,544.80 C453.60,546.93 467.67,550.23 478.80,552.70 C489.93,555.17 505.33,558.13 512.20,559.60 C519.07,561.07 517.38,560.52 520.00,561.50 C522.62,562.48 525.27,564.02 527.90,565.50 C530.53,566.98 533.25,568.49 535.80,570.40 C538.35,572.31 540.73,574.77 543.20,576.95 C545.67,579.13 548.05,581.59 550.60,583.50 C553.15,585.41 555.87,586.92 558.50,588.40 C561.13,589.88 563.78,591.42 566.40,592.40 C569.02,593.38 567.33,592.83 574.20,594.30 C581.07,595.77 596.47,598.73 607.60,601.20 C618.73,603.67 632.80,606.97 641.00,609.10 C649.20,611.23 651.30,612.23 656.80,614.00 C662.30,615.77 671.13,618.78 674.00,619.73" fill="none" stroke="#0000ff" stroke-width="2.40" stroke-linejoin="round" stroke-linecap="butt" clip-path="url(#cb)"/>
<path d="M412.50,494.32 L413.00,494.60 L413.50,494.88 L414.00,495.17 L414.50,495.45 L415.00,495.73 L415.50,496.01 L416.00,496.29 L416.50,496.58 L417.00,496.86 L417.50,497.14 L418.00,497.42 L418.50,497.70 L419.00,497.99 L419.50,498.27 L420.00,498.55 L420.50,498.83 L421.00,499.12 L421.50,499.40 L422.00,499.68 L422.50,499.97 L423.00,500.25 L423.50,500.53 L424.00,500.81 L424.50,501.10 L425.00,501.38 L425.50,501.66 L426.00,501.95 L426.50,502.23 L427.00,502.51 L427.50,502.80 L428.00,503.08 L428.50,503.37 L429.00,503.65 L429.50,503.93 L430.00,504.22 L430.50,504.50 L431.00,504.79 L431.50,505.07 L432.00,505.36 L432.50,505.64 L433.00,505.93 L433.50,506.21 L434.00,506.50 L434.50,506.78 L435.00,507.07 L435.50,507.35 L436.00,507.64 L436.50,507.92 L437.00,508.21 L437.50,508.49 L438.00,508.78 L438.50,509.07 L439.00,509.35 L439.50,509.64 L440.00,509.93 L440.50,510.21 L441.00,510.50 L441.50,510.79 L442.00,511.07 L442.50,511.36 L443.00,511.65 L443.50,511.94 L444.00,512.22 L444.50,512.51 L445.00,512.80 L445.50,513.09 L446.00,513.38 L446.50,513.67 L447.00,513.95 L447.50,514.24 L448.00,514.53 L448.50,514.82 L449.00,515.11 L449.50,515.40 L450.00,515.69 L450.50,515.98 L451.00,516.27 L451.50,516.56 L452.00,516.85 L452.50,517.14 L453.00,517.43 L453.50,517.73 L454.00,518.02 L454.50,518.31 L455.00,518.60 L455.50,518.89 L456.00,519.19 L456.50,519.48 L457.00,519.77 L457.50,520.06 L458.00,520.36 L458.50,520.65 L459.00,520.94 L459.50,521.24 L460.00,521.53 L460.50,521.83 L461.00,522.12 L461.50,522.42 L462.00,522.71 L462.50,523.01 L463.00,523.31 L463.50,523.60 L464.00,523.90 L464.50,524.20 L465.00,524.49 L465.50,524.79 L466.00,525.09 L466.50,525.39 L467.00,525.68 L467.50,525.98 L468.00,526.28 L468.50,526.58 L469.00,526.88 L469.50,527.18 L470.00,527.48 L470.50,527.78 L471.00,528.08 L471.50,528.39 L472.00,528.69 L472.50,528.99 L473.00,529.29 L473.50,529.60 L474.00,529.90 L474.50,530.20 L475.00,530.51 L475.50,530.81 L476.00,531.12 L476.50,531.42 L477.00,531.73 L477.50,532.04 L478.00,532.34 L478.50,532.65 L479.00,532.96 L479.50,533.26 L480.00,533.57 L480.50,533.88 L481.00,534.19 L481.50,534.50 L482.00,534.81 L482.50,535.12 L483.00,535.43 L483.50,535.74 L484.00,536.06 L484.50,536.37 L485.00,536.68 L485.50,537.00 L486.00,537.31 L486.50,537.63 L487.00,537.94 L487.50,538.26 L488.00,538.57 L488.50,538.89 L489.00,539.21 L489.50,539.52 L490.00,539.84 L490.50,540.16 L491.00,540.48 L491.50,540.80 L492.00,541.12 L492.50,541.44 L493.00,541.76 L493.50,542.09 L494.00,542.41 L494.50,542.73 L495.00,543.06 L495.50,543.38 L496.00,543.71 L496.50,544.03 L497.00,544.36 L497.50,544.69 L498.00,545.01 L498.50,545.34 L499.00,545.67 L499.50,546.00 L500.00,546.33 L500.50,546.66 L501.00,546.99 L501.50,547.32 L502.00,547.66 L502.50,547.99 L503.00,548.32 L503.50,548.66 L504.00,548.99 L504.50,549.33 L505.00,549.66 L505.50,550.00 L506.00,550.34 L506.50,550.68 L507.00,551.02 L507.50,551.35 L508.00,551.69 L508.50,552.04 L509.00,552.38 L509.50,552.72 L510.00,553.06 L510.50,553.40 L511.00,553.75 L511.50,554.09 L512.00,554.44 L512.50,554.78 L513.00,555.13 L513.50,555.48 L514.00,555.82 L514.50,556.17 L515.00,556.52 L515.50,556.87 L516.00,557.22 L516.50,557.57 L517.00,557.92 L517.50,558.28 L518.00,558.63 L518.50,558.98 L519.00,559.33 L519.50,559.69 L520.00,560.04 L520.50,560.40 L521.00,560.75 L521.50,561.11 L522.00,561.47 L522.50,561.82 L523.00,562.18 L523.50,562.54 L524.00,562.90 L524.50,563.26 L525.00,563.62 L525.50,563.98 L526.00,564.34 L526.50,564.70 L527.00,565.06 L527.50,565.43 L528.00,565.79 L528.50,566.15 L529.00,566.51 L529.50,566.88 L530.00,567.24 L530.50,567.61 L531.00,567.97 L531.50,568.34 L532.00,568.70 L532.50,569.07 L533.00,569.44 L533.50,569.80 L534.00,570.17 L534.50,570.54 L535.00,570.90 L535.50,571.27 L536.00,571.64 L536.50,572.01 L537.00,572.37 L537.50,572.74 L538.00,573.11 L538.50,573.48 L539.00,573.85 L539.50,574.22 L540.00,574.59 L540.50,574.96 L541.00,575.32 L541.50,575.69 L542.00,576.06 L542.50,576.43 L543.00,576.80 L543.50,577.17 L544.00,577.54 L544.50,577.91 L545.00,578.28 L545.50,578.65 L546.00,579.02 L546.50,579.39 L547.00,579.76 L547.50,580.13 L548.00,580.49 L548.50,580.86 L549.00,581.23 L549.50,581.60 L550.00,581.97 L550.50,582.34 L551.00,582.70 L551.50,583.07 L552.00,583.44 L552.50,583.81 L553.00,584.17 L553.50,584.54 L554.00,584.90 L554.50,585.27 L555.00,585.64 L555.50,586.00 L556.00,586.37 L556.50,586.73 L557.00,587.09 L557.50,587.46 L558.00,587.82 L558.50,588.18 L559.00,588.55 L559.50,588.91 L560.00,589.27 L560.50,589.63 L561.00,589.99 L561.50,590.35 L562.00,590.71 L562.50,591.07 L563.00,591.43 L563.50,591.79 L564.00,592.15 L564.50,592.50 L565.00,592.86 L565.50,593.22 L566.00,593.57 L566.50,593.93 L567.00,594.28 L567.50,594.64 L568.00,594.99 L568.50,595.34 L569.00,595.70 L569.50,596.05 L570.00,596.40 L570.50,596.75 L571.00,597.10 L571.50,597.45 L572.00,597.80 L572.50,598.14 L573.00,598.49 L573.50,598.84 L574.00,599.19 L574.50,599.53 L575.00,599.88 L575.50,600.22 L576.00,600.56 L576.50,600.91 L577.00,601.25 L577.50,601.59 L578.00,601.93 L578.50,602.27 L579.00,602.61 L579.50,602.95 L580.00,603.29 L580.50,603.63 L581.00,603.97 L581.50,604.30 L582.00,604.64 L582.50,604.98 L583.00,605.31 L583.50,605.64 L584.00,605.98 L584.50,606.31 L585.00,606.64 L585.50,606.98 L586.00,607.31 L586.50,607.64 L587.00,607.97 L587.50,608.30 L588.00,608.62 L588.50,608.95 L589.00,609.28 L589.50,609.61 L590.00,609.93 L590.50,610.26 L591.00,610.58 L591.50,610.91 L592.00,611.23 L592.50,611.56 L593.00,611.88 L593.50,612.20 L594.00,612.52 L594.50,612.84 L595.00,613.16 L595.50,613.48 L596.00,613.80 L596.50,614.12 L597.00,614.44 L597.50,614.76 L598.00,615.07 L598.50,615.39 L599.00,615.71 L599.50,616.02 L600.00,616.34 L600.50,616.65 L601.00,616.97 L601.50,617.28 L602.00,617.59 L602.50,617.91 L603.00,618.22 L603.50,618.53 L604.00,618.84 L604.50,619.15 L605.00,619.46 L605.50,619.77 L606.00,620.08 L606.50,620.39 L607.00,620.70 L607.50,621.00 L608.00,621.31 L608.50,621.62 L609.00,621.93 L609.50,622.23 L610.00,622.54 L610.50,622.84 L611.00,623.15 L611.50,623.45 L612.00,623.76 L612.50,624.06 L613.00,624.36 L613.50,624.67 L614.00,624.97 L614.50,625.27 L615.00,625.57 L615.50,625.88 L616.00,626.18 L616.50,626.48 L617.00,626.78 L617.50,627.08 L618.00,627.38 L618.50,627.68 L619.00,627.98 L619.50,628.27 L620.00,628.57 L620.50,628.87 L621.00,629.17 L621.50,629.47 L622.00,629.76 L622.50,630.06 L623.00,630.36 L623.50,630.65 L624.00,630.95 L624.50,631.25 L625.00,631.54 L625.50,631.84 L626.00,632.13 L626.50,632.43 L627.00,632.72 L627.50,633.01 L628.00,633.31 L628.50,633.60 L629.00,633.89 L629.50,634.19 L630.00,634.48 L630.50,634.77 L631.00,635.07 L631.50,635.36 L632.00,635.65 L632.50,635.94 L633.00,636.23 L633.50,636.52 L634.00,636.82 L634.50,637.11 L635.00,637.40 L635.50,637.69 L636.00,637.98 L636.50,638.27 L637.00,638.56 L637.50,638.85 L638.00,639.14 L638.50,639.43 L639.00,639.71 L639.50,640.00 L640.00,640.29 L640.50,640.58 L641.00,640.87 L641.50,641.16 L642.00,641.45 L642.50,641.73 L643.00,642.02 L643.50,642.31 L644.00,642.60 L644.50,642.88 L645.00,643.17 L645.50,643.46 L646.00,643.74 L646.50,644.03 L647.00,644.32 L647.50,644.60 L648.00,644.89 L648.50,645.18 L649.00,645.46 L649.50,645.75 L650.00,646.03 L650.50,646.32 L651.00,646.61 L651.50,646.89 L652.00,647.18 L652.50,647.46 L653.00,647.75 L653.50,648.03 L654.00,648.32 L654.50,648.60 L655.00,648.89 L655.50,649.17 L656.00,649.45 L656.50,649.74 L657.00,650.02 L657.50,650.31 L658.00,650.59 L658.50,650.87 L659.00,651.16 L659.50,651.44 L660.00,651.73 L660.50,652.01 L661.00,652.29 L661.50,652.58 L662.00,652.86 L662.50,653.14 L663.00,653.43 L663.50,653.71 L664.00,653.99 L664.50,654.27 L665.00,654.56 L665.50,654.84 L666.00,655.12 L666.50,655.40 L667.00,655.69 L667.50,655.97 L668.00,656.25 L668.50,656.53 L669.00,656.82 L669.50,657.10 L670.00,657.38 L670.50,657.66 L671.00,657.94 L671.50,658.23 L672.00,658.51 L672.50,658.79 L673.00,659.07 L673.50,659.35 L673.90,659.58" fill="none" stroke="#00ff00" stroke-width="2.40" stroke-linejoin="round" stroke-linecap="butt" clip-path="url(#cb)"/>
<path d="M72.20,765.72 C80.17,770.52 105.37,785.67 120.00,794.50 C134.63,803.33 150.33,812.87 160.00,818.70 C169.67,824.53 173.80,827.07 178.00,829.50 C182.20,831.93 183.38,832.30 185.20,833.30 C187.02,834.30 187.87,835.02 188.90,835.50 C189.93,835.98 190.62,836.28 191.40,836.20 C192.18,836.12 193.00,835.75 193.60,835.00 C194.20,834.25 194.58,833.03 195.00,831.70 C195.42,830.37 195.68,828.87 196.10,827.00 C196.52,825.13 197.02,822.78 197.50,820.50 C197.98,818.22 198.52,815.58 199.00,813.30 C199.48,811.02 199.92,808.67 200.40,806.80 C200.88,804.93 201.43,803.25 201.90,802.10 C202.37,800.95 202.98,800.27 203.20,799.90" fill="none" stroke="#000000" stroke-width="2.30" stroke-linejoin="round" stroke-linecap="butt" clip-path="url(#cd)"/>
<path d="M202.60,831.40 C202.83,830.67 203.52,828.57 204.00,827.00 C204.48,825.43 205.00,823.75 205.50,822.00 C206.00,820.25 206.52,818.32 207.00,816.50 C207.48,814.68 207.98,812.85 208.40,811.10 C208.82,809.35 209.13,807.57 209.50,806.00 C209.87,804.43 210.25,802.87 210.60,801.70 C210.95,800.53 211.22,799.68 211.60,799.00 C211.98,798.32 212.35,797.93 212.90,797.60 C213.45,797.27 214.22,796.98 214.90,797.00 C215.58,797.02 216.23,797.37 217.00,797.70 C217.77,798.03 218.00,798.07 219.50,799.00 C221.00,799.93 219.25,799.22 226.00,803.30 C232.75,807.38 247.67,816.20 260.00,823.50 C272.33,830.80 287.63,839.79 300.00,847.10 C312.37,854.41 328.50,863.99 334.20,867.37" fill="none" stroke="#000000" stroke-width="2.30" stroke-linejoin="round" stroke-linecap="butt" clip-path="url(#cd)"/>
<path d="M203.20,799.90 L203.00,832.00" fill="none" stroke="#000000" stroke-width="1.60" stroke-linejoin="round" stroke-linecap="butt" clip-path="url(#cd)"/>
<path d="M72.50,842.24 L72.75,842.35 L73.00,842.47 L73.25,842.58 L73.50,842.70 L73.75,842.81 L74.00,842.92 L74.25,843.04 L74.50,843.15 L74.75,843.27 L75.00,843.38 L75.25,843.49 L75.50,843.61 L75.75,843.72 L76.00,843.83 L76.25,843.95 L76.50,844.06 L76.75,844.18 L77.00,844.29 L77.25,844.40 L77.50,844.52 L77.75,844.63 L78.00,844.75 L78.25,844.86 L78.50,844.97 L78.75,845.09 L79.00,845.20 L79.25,845.32 L79.50,845.43 L79.75,845.54 L80.00,845.66 L80.25,845.77 L80.50,845.89 L80.75,846.00 L81.00,846.11 L81.25,846.23 L81.50,846.34 L81.75,846.46 L82.00,846.57 L82.25,846.68 L82.50,846.80 L82.75,846.91 L83.00,847.02 L83.25,847.14 L83.50,847.25 L83.75,847.37 L84.00,847.48 L84.25,847.59 L84.50,847.71 L84.75,847.82 L85.00,847.94 L85.25,848.05 L85.50,848.16 L85.75,848.28 L86.00,848.39 L86.25,848.51 L86.50,848.62 L86.75,848.73 L87.00,848.85 L87.25,848.96 L87.50,849.08 L87.75,849.19 L88.00,849.30 L88.25,849.42 L88.50,849.53 L88.75,849.65 L89.00,849.76 L89.25,849.87 L89.50,849.99 L89.75,850.10 L90.00,850.21 L90.25,850.33 L90.50,850.44 L90.75,850.56 L91.00,850.67 L91.25,850.78 L91.50,850.90 L91.75,851.01 L92.00,851.13 L92.25,851.24 L92.50,851.35 L92.75,851.47 L93.00,851.58 L93.25,851.70 L93.50,851.81 L93.75,851.92 L94.00,852.04 L94.25,852.15 L94.50,852.27 L94.75,852.38 L95.00,852.49 L95.25,852.61 L95.50,852.72 L95.75,852.83 L96.00,852.95 L96.25,853.06 L96.50,853.18 L96.75,853.29 L97.00,853.40 L97.25,853.52 L97.50,853.63 L97.75,853.75 L98.00,853.86 L98.25,853.97 L98.50,854.09 L98.75,854.20 L99.00,854.32 L99.25,854.43 L99.50,854.54 L99.75,854.66 L100.00,854.77 L100.25,854.89 L100.50,855.00 L100.75,855.11 L101.00,855.23 L101.25,855.34 L101.50,855.46 L101.75,855.57 L102.00,855.68 L102.25,855.80 L102.50,855.91 L102.75,856.02 L103.00,856.14 L103.25,856.25 L103.50,856.37 L103.75,856.48 L104.00,856.59 L104.25,856.71 L104.50,856.82 L104.75,856.94 L105.00,857.05 L105.25,857.16 L105.50,857.28 L105.75,857.39 L106.00,857.51 L106.25,857.62 L106.50,857.73 L106.75,857.85 L107.00,857.96 L107.25,858.08 L107.50,858.19 L107.75,858.30 L108.00,858.42 L108.25,858.53 L108.50,858.65 L108.75,858.76 L109.00,858.87 L109.25,858.99 L109.50,859.10 L109.75,859.21 L110.00,859.33 L110.25,859.44 L110.50,859.56 L110.75,859.67 L111.00,859.78 L111.25,859.90 L111.50,860.01 L111.75,860.13 L112.00,860.24 L112.25,860.35 L112.50,860.47 L112.75,860.58 L113.00,860.70 L113.25,860.81 L113.50,860.92 L113.75,861.04 L114.00,861.15 L114.25,861.27 L114.50,861.38 L114.75,861.49 L115.00,861.61 L115.25,861.72 L115.50,861.84 L115.75,861.95 L116.00,862.06 L116.25,862.18 L116.50,862.29 L116.75,862.40 L117.00,862.52 L117.25,862.63 L117.50,862.75 L117.75,862.86 L118.00,862.97 L118.25,863.09 L118.50,863.20 L118.75,863.32 L119.00,863.43 L119.25,863.54 L119.50,863.66 L119.75,863.77 L120.00,863.89 L120.25,864.00 L120.50,864.11 L120.75,864.23 L121.00,864.34 L121.25,864.46 L121.50,864.57 L121.75,864.68 L122.00,864.80 L122.25,864.91 L122.50,865.02 L122.75,865.14 L123.00,865.25 L123.25,865.37 L123.50,865.48 L123.75,865.59 L124.00,865.71 L124.25,865.82 L124.50,865.94 L124.75,866.05 L125.00,866.16 L125.25,866.28 L125.50,866.39 L125.75,866.51 L126.00,866.62 L126.25,866.73 L126.50,866.85 L126.75,866.96 L127.00,867.08 L127.25,867.19 L127.50,867.30 L127.75,867.42 L128.00,867.53 L128.25,867.65 L128.50,867.76 L128.75,867.87 L129.00,867.99 L129.25,868.10 L129.50,868.21 L129.75,868.33 L130.00,868.44 L130.25,868.56 L130.50,868.67 L130.75,868.78 L131.00,868.90 L131.25,869.01 L131.50,869.13 L131.75,869.24 L132.00,869.35 L132.25,869.47 L132.50,869.58 L132.75,869.70 L133.00,869.81 L133.25,869.92 L133.50,870.04 L133.75,870.15 L134.00,870.27 L134.25,870.38 L134.50,870.49 L134.75,870.61 L135.00,870.72 L135.25,870.83 L135.50,870.95 L135.75,871.06 L136.00,871.18 L136.25,871.29 L136.50,871.40 L136.75,871.52 L137.00,871.63 L137.25,871.75 L137.50,871.86 L137.75,871.97 L138.00,872.09 L138.25,872.20 L138.50,872.32 L138.75,872.43 L139.00,872.54 L139.25,872.66 L139.50,872.77 L139.75,872.89 L140.00,873.00 L140.25,873.11 L140.50,873.23 L140.75,873.34 L141.00,873.45 L141.25,873.57 L141.50,873.68 L141.75,873.80 L142.00,873.91 L142.25,874.02 L142.50,874.14 L142.75,874.25 L143.00,874.37 L143.25,874.48 L143.50,874.59 L143.75,874.71 L144.00,874.82 L144.25,874.94 L144.50,875.05 L144.75,875.16 L145.00,875.28 L145.25,875.39 L145.50,875.51 L145.75,875.62 L146.00,875.73 L146.25,875.85 L146.50,875.96 L146.75,876.07 L147.00,876.19 L147.25,876.30 L147.50,876.42 L147.75,876.53 L148.00,876.64 L148.25,876.76 L148.50,876.87 L148.75,876.99 L149.00,877.10 L149.25,877.21 L149.50,877.33 L149.75,877.44 L150.00,877.56 L150.25,877.67 L150.50,877.78 L150.75,877.90 L151.00,878.01 L151.25,878.12 L151.50,878.24 L151.75,878.35 L152.00,878.47 L152.25,878.58 L152.50,878.69 L152.75,878.81 L153.00,878.92 L153.25,879.04 L153.50,879.15 L153.75,879.26 L154.00,879.38 L154.25,879.49 L154.50,879.61 L154.75,879.72 L155.00,879.83 L155.25,879.95 L155.50,880.06 L155.75,880.17 L156.00,880.29 L156.25,880.40 L156.50,880.52 L156.75,880.63 L157.00,880.74 L157.25,880.86 L157.50,880.97 L157.75,881.09 L158.00,881.20 L158.25,881.31 L158.50,881.43 L158.75,881.54 L159.00,881.65 L159.25,881.77 L159.50,881.88 L159.75,882.00 L160.00,882.11 L160.25,882.22 L160.50,882.34 L160.75,882.45 L161.00,882.57 L161.25,882.68 L161.50,882.79 L161.75,882.91 L162.00,883.02 L162.25,883.13 L162.50,883.25 L162.75,883.36 L163.00,883.48 L163.25,883.59 L163.50,883.70 L163.75,883.82 L164.00,883.93 L164.25,884.04 L164.50,884.16 L164.75,884.27 L165.00,884.39 L165.25,884.50 L165.50,884.61 L165.75,884.73 L166.00,884.84 L166.25,884.95 L166.50,885.07 L166.75,885.18 L167.00,885.30 L167.25,885.41 L167.50,885.52 L167.75,885.64 L168.00,885.75 L168.25,885.86 L168.50,885.98 L168.75,886.09 L169.00,886.20 L169.25,886.32 L169.50,886.43 L169.75,886.54 L170.00,886.66 L170.25,886.77 L170.50,886.88 L170.75,887.00 L171.00,887.11 L171.25,887.22 L171.50,887.34 L171.75,887.45 L172.00,887.56 L172.25,887.68 L172.50,887.79 L172.75,887.90 L173.00,888.02 L173.25,888.13 L173.50,888.24 L173.75,888.36 L174.00,888.47 L174.25,888.58 L174.50,888.69 L174.75,888.81 L175.00,888.92 L175.25,889.03 L175.50,889.14 L175.75,889.26 L176.00,889.37 L176.25,889.48 L176.50,889.59 L176.75,889.71 L177.00,889.82 L177.25,889.93 L177.50,890.04 L177.75,890.15 L178.00,890.26 L178.25,890.38 L178.50,890.49 L178.75,890.60 L179.00,890.71 L179.25,890.82 L179.50,890.93 L179.75,891.04 L180.00,891.15 L180.25,891.26 L180.50,891.37 L180.75,891.48 L181.00,891.59 L181.25,891.69 L181.50,891.80 L181.75,891.91 L182.00,892.02 L182.25,892.12 L182.50,892.23 L182.75,892.33 L183.00,892.44 L183.25,892.54 L183.50,892.65 L183.75,892.75 L184.00,892.85 L184.25,892.95 L184.50,893.05 L184.75,893.15 L185.00,893.25 L185.25,893.34 L185.50,893.44 L185.75,893.53 L186.00,893.62 L186.25,893.71 L186.50,893.79 L186.75,893.87 L187.00,893.95 L187.25,894.03 L187.50,894.11 L187.75,894.18 L188.00,894.24 L188.25,894.30 L188.50,894.36 L188.75,894.41 L189.00,894.45 L189.25,894.48 L189.50,894.51 L189.75,894.53 L190.00,894.53 L190.25,894.53 L190.50,894.51 L190.75,894.47 L191.00,894.42 L191.25,894.35 L191.50,894.26 L191.75,894.14 L192.00,893.99 L192.25,893.82 L192.50,893.61 L192.75,893.36 L193.00,893.06 L193.25,892.71 L193.50,892.31 L193.75,891.85 L194.00,891.32 L194.25,890.71 L194.50,890.02 L194.75,889.23 L195.00,888.35 L195.25,887.37 L195.50,886.27 L195.75,885.06 L196.00,883.73 L196.25,882.28 L196.50,880.71 L196.75,879.02 L197.00,877.22 L197.25,875.30 L197.50,873.29 L197.75,871.18 L198.00,868.98 L198.25,866.72 L198.50,864.38 L198.75,861.99 L199.00,859.56 L199.25,857.09 L199.50,854.59 L199.75,852.06 L200.00,849.52 L200.25,846.96 L200.50,844.40 L200.75,841.82 L201.00,839.24 L201.25,836.66 L201.50,834.08 L201.75,831.49 L202.00,828.91 L202.25,826.32 L202.50,823.74 L202.75,821.15 L203.00,818.57 L203.25,815.98 L203.50,813.40 L203.75,810.81 L204.00,808.23 L204.25,805.64 L204.50,803.06 L204.75,800.47 L205.00,797.89 L205.25,795.30 L205.50,792.72 L205.75,790.15 L206.00,787.58 L206.25,785.01 L206.50,782.46 L206.75,779.93 L207.00,777.41 L207.25,774.92 L207.50,772.46 L207.75,770.05 L208.00,767.68 L208.25,765.37 L208.50,763.13 L208.75,760.97 L209.00,758.89 L209.25,756.92 L209.50,755.05 L209.75,753.29 L210.00,751.64 L210.25,750.12 L210.50,748.72 L210.75,747.44 L211.00,746.28 L211.25,745.23 L211.50,744.28 L211.75,743.44 L212.00,742.70 L212.25,742.04 L212.50,741.46 L212.75,740.96 L213.00,740.52 L213.25,740.14 L213.50,739.82 L213.75,739.54 L214.00,739.30 L214.25,739.11 L214.50,738.94 L214.75,738.81 L215.00,738.70 L215.25,738.62 L215.50,738.56 L215.75,738.51 L216.00,738.48 L216.25,738.47 L216.50,738.47 L216.75,738.48 L217.00,738.50 L217.25,738.53 L217.50,738.57 L217.75,738.61 L218.00,738.67 L218.25,738.72 L218.50,738.78 L218.75,738.85 L219.00,738.92 L219.25,739.00 L219.50,739.08 L219.75,739.16 L220.00,739.24 L220.25,739.33 L220.50,739.42 L220.75,739.51 L221.00,739.60 L221.25,739.70 L221.50,739.79 L221.75,739.89 L222.00,739.99 L222.25,740.09 L222.50,740.19 L222.75,740.29 L223.00,740.39 L223.25,740.50 L223.50,740.60 L223.75,740.71 L224.00,740.81 L224.25,740.92 L224.50,741.03 L224.75,741.13 L225.00,741.24 L225.25,741.35 L225.50,741.46 L225.75,741.57 L226.00,741.67 L226.25,741.78 L226.50,741.89 L226.75,742.00 L227.00,742.11 L227.25,742.22 L227.50,742.34 L227.75,742.45 L228.00,742.56 L228.25,742.67 L228.50,742.78 L228.75,742.89 L229.00,743.00 L229.25,743.11 L229.50,743.23 L229.75,743.34 L230.00,743.45 L230.25,743.56 L230.50,743.68 L230.75,743.79 L231.00,743.90 L231.25,744.01 L231.50,744.13 L231.75,744.24 L232.00,744.35 L232.25,744.46 L232.50,744.58 L232.75,744.69 L233.00,744.80 L233.25,744.92 L233.50,745.03 L233.75,745.14 L234.00,745.25 L234.25,745.37 L234.50,745.48 L234.75,745.59 L235.00,745.71 L235.25,745.82 L235.50,745.93 L235.75,746.05 L236.00,746.16 L236.25,746.27 L236.50,746.39 L236.75,746.50 L237.00,746.61 L237.25,746.73 L237.50,746.84 L237.75,746.96 L238.00,747.07 L238.25,747.18 L238.50,747.30 L238.75,747.41 L239.00,747.52 L239.25,747.64 L239.50,747.75 L239.75,747.86 L240.00,747.98 L240.25,748.09 L240.50,748.20 L240.75,748.32 L241.00,748.43 L241.25,748.55 L241.50,748.66 L241.75,748.77 L242.00,748.89 L242.25,749.00 L242.50,749.11 L242.75,749.23 L243.00,749.34 L243.25,749.46 L243.50,749.57 L243.75,749.68 L244.00,749.80 L244.25,749.91 L244.50,750.02 L244.75,750.14 L245.00,750.25 L245.25,750.37 L245.50,750.48 L245.75,750.59 L246.00,750.71 L246.25,750.82 L246.50,750.94 L246.75,751.05 L247.00,751.16 L247.25,751.28 L247.50,751.39 L247.75,751.50 L248.00,751.62 L248.25,751.73 L248.50,751.85 L248.75,751.96 L249.00,752.07 L249.25,752.19 L249.50,752.30 L249.75,752.42 L250.00,752.53 L250.25,752.64 L250.50,752.76 L250.75,752.87 L251.00,752.98 L251.25,753.10 L251.50,753.21 L251.75,753.33 L252.00,753.44 L252.25,753.55 L252.50,753.67 L252.75,753.78 L253.00,753.90 L253.25,754.01 L253.50,754.12 L253.75,754.24 L254.00,754.35 L254.25,754.46 L254.50,754.58 L254.75,754.69 L255.00,754.81 L255.25,754.92 L255.50,755.03 L255.75,755.15 L256.00,755.26 L256.25,755.38 L256.50,755.49 L256.75,755.60 L257.00,755.72 L257.25,755.83 L257.50,755.95 L257.75,756.06 L258.00,756.17 L258.25,756.29 L258.50,756.40 L258.75,756.52 L259.00,756.63 L259.25,756.74 L259.50,756.86 L259.75,756.97 L260.00,757.08 L260.25,757.20 L260.50,757.31 L260.75,757.43 L261.00,757.54 L261.25,757.65 L261.50,757.77 L261.75,757.88 L262.00,758.00 L262.25,758.11 L262.50,758.22 L262.75,758.34 L263.00,758.45 L263.25,758.57 L263.50,758.68 L263.75,758.79 L264.00,758.91 L264.25,759.02 L264.50,759.14 L264.75,759.25 L265.00,759.36 L265.25,759.48 L265.50,759.59 L265.75,759.70 L266.00,759.82 L266.25,759.93 L266.50,760.05 L266.75,760.16 L267.00,760.27 L267.25,760.39 L267.50,760.50 L267.75,760.62 L268.00,760.73 L268.25,760.84 L268.50,760.96 L268.75,761.07 L269.00,761.19 L269.25,761.30 L269.50,761.41 L269.75,761.53 L270.00,761.64 L270.25,761.76 L270.50,761.87 L270.75,761.98 L271.00,762.10 L271.25,762.21 L271.50,762.32 L271.75,762.44 L272.00,762.55 L272.25,762.67 L272.50,762.78 L272.75,762.89 L273.00,763.01 L273.25,763.12 L273.50,763.24 L273.75,763.35 L274.00,763.46 L274.25,763.58 L274.50,763.69 L274.75,763.81 L275.00,763.92 L275.25,764.03 L275.50,764.15 L275.75,764.26 L276.00,764.38 L276.25,764.49 L276.50,764.60 L276.75,764.72 L277.00,764.83 L277.25,764.94 L277.50,765.06 L277.75,765.17 L278.00,765.29 L278.25,765.40 L278.50,765.51 L278.75,765.63 L279.00,765.74 L279.25,765.86 L279.50,765.97 L279.75,766.08 L280.00,766.20 L280.25,766.31 L280.50,766.43 L280.75,766.54 L281.00,766.65 L281.25,766.77 L281.50,766.88 L281.75,767.00 L282.00,767.11 L282.25,767.22 L282.50,767.34 L282.75,767.45 L283.00,767.57 L283.25,767.68 L283.50,767.79 L283.75,767.91 L284.00,768.02 L284.25,768.13 L284.50,768.25 L284.75,768.36 L285.00,768.48 L285.25,768.59 L285.50,768.70 L285.75,768.82 L286.00,768.93 L286.25,769.05 L286.50,769.16 L286.75,769.27 L287.00,769.39 L287.25,769.50 L287.50,769.62 L287.75,769.73 L288.00,769.84 L288.25,769.96 L288.50,770.07 L288.75,770.19 L289.00,770.30 L289.25,770.41 L289.50,770.53 L289.75,770.64 L290.00,770.75 L290.25,770.87 L290.50,770.98 L290.75,771.10 L291.00,771.21 L291.25,771.32 L291.50,771.44 L291.75,771.55 L292.00,771.67 L292.25,771.78 L292.50,771.89 L292.75,772.01 L293.00,772.12 L293.25,772.24 L293.50,772.35 L293.75,772.46 L294.00,772.58 L294.25,772.69 L294.50,772.81 L294.75,772.92 L295.00,773.03 L295.25,773.15 L295.50,773.26 L295.75,773.38 L296.00,773.49 L296.25,773.60 L296.50,773.72 L296.75,773.83 L297.00,773.94 L297.25,774.06 L297.50,774.17 L297.75,774.29 L298.00,774.40 L298.25,774.51 L298.50,774.63 L298.75,774.74 L299.00,774.86 L299.25,774.97 L299.50,775.08 L299.75,775.20 L300.00,775.31 L300.25,775.43 L300.50,775.54 L300.75,775.65 L301.00,775.77 L301.25,775.88 L301.50,776.00 L301.75,776.11 L302.00,776.22 L302.25,776.34 L302.50,776.45 L302.75,776.56 L303.00,776.68 L303.25,776.79 L303.50,776.91 L303.75,777.02 L304.00,777.13 L304.25,777.25 L304.50,777.36 L304.75,777.48 L305.00,777.59 L305.25,777.70 L305.50,777.82 L305.75,777.93 L306.00,778.05 L306.25,778.16 L306.50,778.27 L306.75,778.39 L307.00,778.50 L307.25,778.62 L307.50,778.73 L307.75,778.84 L308.00,778.96 L308.25,779.07 L308.50,779.19 L308.75,779.30 L309.00,779.41 L309.25,779.53 L309.50,779.64 L309.75,779.75 L310.00,779.87 L310.25,779.98 L310.50,780.10 L310.75,780.21 L311.00,780.32 L311.25,780.44 L311.50,780.55 L311.75,780.67 L312.00,780.78 L312.25,780.89 L312.50,781.01 L312.75,781.12 L313.00,781.24 L313.25,781.35 L313.50,781.46 L313.75,781.58 L314.00,781.69 L314.25,781.81 L314.50,781.92 L314.75,782.03 L315.00,782.15 L315.25,782.26 L315.50,782.38 L315.75,782.49 L316.00,782.60 L316.25,782.72 L316.50,782.83 L316.75,782.94 L317.00,783.06 L317.25,783.17 L317.50,783.29 L317.75,783.40 L318.00,783.51 L318.25,783.63 L318.50,783.74 L318.75,783.86 L319.00,783.97 L319.25,784.08 L319.50,784.20 L319.75,784.31 L320.00,784.43 L320.25,784.54 L320.50,784.65 L320.75,784.77 L321.00,784.88 L321.25,785.00 L321.50,785.11 L321.75,785.22 L322.00,785.34 L322.25,785.45 L322.50,785.57 L322.75,785.68 L323.00,785.79 L323.25,785.91 L323.50,786.02 L323.75,786.13 L324.00,786.25 L324.25,786.36 L324.50,786.48 L324.75,786.59 L325.00,786.70 L325.25,786.82 L325.50,786.93 L325.75,787.05 L326.00,787.16 L326.25,787.27 L326.50,787.39 L326.75,787.50 L327.00,787.62 L327.25,787.73 L327.50,787.84 L327.75,787.96 L328.00,788.07 L328.25,788.19 L328.50,788.30 L328.75,788.41 L329.00,788.53 L329.25,788.64 L329.50,788.75 L329.75,788.87 L330.00,788.98 L330.25,789.10 L330.50,789.21 L330.75,789.32 L331.00,789.44 L331.25,789.55 L331.50,789.67 L331.75,789.78 L332.00,789.89 L332.25,790.01 L332.50,790.12 L332.75,790.24 L333.00,790.35 L333.25,790.46 L333.50,790.58 L333.75,790.69 L333.90,790.76" fill="none" stroke="#ff0000" stroke-width="2.40" stroke-linejoin="round" stroke-linecap="butt" clip-path="url(#cd)"/>
<path d="M72.20,820.74 C78.20,821.47 96.70,824.14 108.20,825.10 C119.70,826.06 131.37,826.53 141.20,826.50 C151.03,826.47 159.45,825.80 167.20,824.90 C174.95,824.00 181.70,822.50 187.70,821.10 C193.70,819.70 198.03,818.03 203.20,816.50 C208.37,814.97 212.70,813.30 218.70,811.90 C224.70,810.50 231.45,809.00 239.20,808.10 C246.95,807.20 255.37,806.53 265.20,806.50 C275.03,806.47 286.70,806.94 298.20,807.90 C309.70,808.86 328.20,811.53 334.20,812.26" fill="none" stroke="#0000ff" stroke-width="2.20" stroke-linejoin="round" stroke-linecap="butt" clip-path="url(#cd)"/>
<path d="M72.50,782.16 L73.00,782.28 L73.50,782.41 L74.00,782.53 L74.50,782.65 L75.00,782.77 L75.50,782.89 L76.00,783.01 L76.50,783.13 L77.00,783.25 L77.50,783.37 L78.00,783.49 L78.50,783.61 L79.00,783.73 L79.50,783.85 L80.00,783.98 L80.50,784.10 L81.00,784.22 L81.50,784.34 L82.00,784.46 L82.50,784.58 L83.00,784.70 L83.50,784.82 L84.00,784.94 L84.50,785.06 L85.00,785.18 L85.50,785.31 L86.00,785.43 L86.50,785.55 L87.00,785.67 L87.50,785.79 L88.00,785.91 L88.50,786.03 L89.00,786.15 L89.50,786.27 L90.00,786.40 L90.50,786.52 L91.00,786.64 L91.50,786.76 L92.00,786.88 L92.50,787.00 L93.00,787.12 L93.50,787.25 L94.00,787.37 L94.50,787.49 L95.00,787.61 L95.50,787.73 L96.00,787.85 L96.50,787.97 L97.00,788.10 L97.50,788.22 L98.00,788.34 L98.50,788.46 L99.00,788.58 L99.50,788.71 L100.00,788.83 L100.50,788.95 L101.00,789.07 L101.50,789.19 L102.00,789.31 L102.50,789.44 L103.00,789.56 L103.50,789.68 L104.00,789.80 L104.50,789.93 L105.00,790.05 L105.50,790.17 L106.00,790.29 L106.50,790.41 L107.00,790.54 L107.50,790.66 L108.00,790.78 L108.50,790.90 L109.00,791.03 L109.50,791.15 L110.00,791.27 L110.50,791.40 L111.00,791.52 L111.50,791.64 L112.00,791.76 L112.50,791.89 L113.00,792.01 L113.50,792.13 L114.00,792.26 L114.50,792.38 L115.00,792.50 L115.50,792.63 L116.00,792.75 L116.50,792.87 L117.00,793.00 L117.50,793.12 L118.00,793.24 L118.50,793.37 L119.00,793.49 L119.50,793.62 L120.00,793.74 L120.50,793.86 L121.00,793.99 L121.50,794.11 L122.00,794.24 L122.50,794.36 L123.00,794.49 L123.50,794.61 L124.00,794.73 L124.50,794.86 L125.00,794.98 L125.50,795.11 L126.00,795.23 L126.50,795.36 L127.00,795.48 L127.50,795.61 L128.00,795.73 L128.50,795.86 L129.00,795.99 L129.50,796.11 L130.00,796.24 L130.50,796.36 L131.00,796.49 L131.50,796.61 L132.00,796.74 L132.50,796.87 L133.00,796.99 L133.50,797.12 L134.00,797.25 L134.50,797.37 L135.00,797.50 L135.50,797.63 L136.00,797.75 L136.50,797.88 L137.00,798.01 L137.50,798.14 L138.00,798.26 L138.50,798.39 L139.00,798.52 L139.50,798.65 L140.00,798.78 L140.50,798.90 L141.00,799.03 L141.50,799.16 L142.00,799.29 L142.50,799.42 L143.00,799.55 L143.50,799.68 L144.00,799.81 L144.50,799.94 L145.00,800.06 L145.50,800.19 L146.00,800.32 L146.50,800.45 L147.00,800.59 L147.50,800.72 L148.00,800.85 L148.50,800.98 L149.00,801.11 L149.50,801.24 L150.00,801.37 L150.50,801.50 L151.00,801.63 L151.50,801.77 L152.00,801.90 L152.50,802.03 L153.00,802.16 L153.50,802.29 L154.00,802.43 L154.50,802.56 L155.00,802.69 L155.50,802.83 L156.00,802.96 L156.50,803.09 L157.00,803.23 L157.50,803.36 L158.00,803.50 L158.50,803.63 L159.00,803.77 L159.50,803.90 L160.00,804.04 L160.50,804.17 L161.00,804.31 L161.50,804.44 L162.00,804.58 L162.50,804.72 L163.00,804.85 L163.50,804.99 L164.00,805.13 L164.50,805.26 L165.00,805.40 L165.50,805.54 L166.00,805.68 L166.50,805.82 L167.00,805.95 L167.50,806.09 L168.00,806.23 L168.50,806.37 L169.00,806.51 L169.50,806.65 L170.00,806.79 L170.50,806.93 L171.00,807.07 L171.50,807.21 L172.00,807.35 L172.50,807.49 L173.00,807.63 L173.50,807.77 L174.00,807.92 L174.50,808.06 L175.00,808.20 L175.50,808.34 L176.00,808.48 L176.50,808.63 L177.00,808.77 L177.50,808.91 L178.00,809.06 L178.50,809.20 L179.00,809.34 L179.50,809.49 L180.00,809.63 L180.50,809.78 L181.00,809.92 L181.50,810.07 L182.00,810.21 L182.50,810.36 L183.00,810.50 L183.50,810.65 L184.00,810.79 L184.50,810.94 L185.00,811.09 L185.50,811.23 L186.00,811.38 L186.50,811.53 L187.00,811.67 L187.50,811.82 L188.00,811.97 L188.50,812.11 L189.00,812.26 L189.50,812.41 L190.00,812.56 L190.50,812.71 L191.00,812.85 L191.50,813.00 L192.00,813.15 L192.50,813.30 L193.00,813.45 L193.50,813.60 L194.00,813.75 L194.50,813.90 L195.00,814.04 L195.50,814.19 L196.00,814.34 L196.50,814.49 L197.00,814.64 L197.50,814.79 L198.00,814.94 L198.50,815.09 L199.00,815.24 L199.50,815.39 L200.00,815.54 L200.50,815.69 L201.00,815.84 L201.50,815.99 L202.00,816.14 L202.50,816.29 L203.00,816.44 L203.50,816.59 L204.00,816.74 L204.50,816.89 L205.00,817.04 L205.50,817.19 L206.00,817.34 L206.50,817.49 L207.00,817.64 L207.50,817.79 L208.00,817.94 L208.50,818.09 L209.00,818.24 L209.50,818.39 L210.00,818.54 L210.50,818.69 L211.00,818.84 L211.50,818.99 L212.00,819.13 L212.50,819.28 L213.00,819.43 L213.50,819.58 L214.00,819.73 L214.50,819.88 L215.00,820.03 L215.50,820.18 L216.00,820.32 L216.50,820.47 L217.00,820.62 L217.50,820.77 L218.00,820.91 L218.50,821.06 L219.00,821.21 L219.50,821.36 L220.00,821.50 L220.50,821.65 L221.00,821.80 L221.50,821.94 L222.00,822.09 L222.50,822.24 L223.00,822.38 L223.50,822.53 L224.00,822.67 L224.50,822.82 L225.00,822.96 L225.50,823.11 L226.00,823.25 L226.50,823.40 L227.00,823.54 L227.50,823.69 L228.00,823.83 L228.50,823.97 L229.00,824.12 L229.50,824.26 L230.00,824.40 L230.50,824.54 L231.00,824.69 L231.50,824.83 L232.00,824.97 L232.50,825.11 L233.00,825.25 L233.50,825.40 L234.00,825.54 L234.50,825.68 L235.00,825.82 L235.50,825.96 L236.00,826.10 L236.50,826.24 L237.00,826.38 L237.50,826.52 L238.00,826.66 L238.50,826.80 L239.00,826.94 L239.50,827.07 L240.00,827.21 L240.50,827.35 L241.00,827.49 L241.50,827.63 L242.00,827.76 L242.50,827.90 L243.00,828.04 L243.50,828.17 L244.00,828.31 L244.50,828.45 L245.00,828.58 L245.50,828.72 L246.00,828.85 L246.50,828.99 L247.00,829.13 L247.50,829.26 L248.00,829.40 L248.50,829.53 L249.00,829.66 L249.50,829.80 L250.00,829.93 L250.50,830.07 L251.00,830.20 L251.50,830.33 L252.00,830.47 L252.50,830.60 L253.00,830.73 L253.50,830.86 L254.00,831.00 L254.50,831.13 L255.00,831.26 L255.50,831.39 L256.00,831.52 L256.50,831.66 L257.00,831.79 L257.50,831.92 L258.00,832.05 L258.50,832.18 L259.00,832.31 L259.50,832.44 L260.00,832.57 L260.50,832.70 L261.00,832.83 L261.50,832.96 L262.00,833.09 L262.50,833.22 L263.00,833.35 L263.50,833.48 L264.00,833.61 L264.50,833.74 L265.00,833.86 L265.50,833.99 L266.00,834.12 L266.50,834.25 L267.00,834.38 L267.50,834.51 L268.00,834.63 L268.50,834.76 L269.00,834.89 L269.50,835.02 L270.00,835.14 L270.50,835.27 L271.00,835.40 L271.50,835.53 L272.00,835.65 L272.50,835.78 L273.00,835.91 L273.50,836.03 L274.00,836.16 L274.50,836.28 L275.00,836.41 L275.50,836.54 L276.00,836.66 L276.50,836.79 L277.00,836.91 L277.50,837.04 L278.00,837.17 L278.50,837.29 L279.00,837.42 L279.50,837.54 L280.00,837.67 L280.50,837.79 L281.00,837.92 L281.50,838.04 L282.00,838.17 L282.50,838.29 L283.00,838.42 L283.50,838.54 L284.00,838.66 L284.50,838.79 L285.00,838.91 L285.50,839.04 L286.00,839.16 L286.50,839.29 L287.00,839.41 L287.50,839.53 L288.00,839.66 L288.50,839.78 L289.00,839.90 L289.50,840.03 L290.00,840.15 L290.50,840.27 L291.00,840.40 L291.50,840.52 L292.00,840.64 L292.50,840.77 L293.00,840.89 L293.50,841.01 L294.00,841.14 L294.50,841.26 L295.00,841.38 L295.50,841.51 L296.00,841.63 L296.50,841.75 L297.00,841.87 L297.50,842.00 L298.00,842.12 L298.50,842.24 L299.00,842.36 L299.50,842.49 L300.00,842.61 L300.50,842.73 L301.00,842.85 L301.50,842.98 L302.00,843.10 L302.50,843.22 L303.00,843.34 L303.50,843.47 L304.00,843.59 L304.50,843.71 L305.00,843.83 L305.50,843.95 L306.00,844.08 L306.50,844.20 L307.00,844.32 L307.50,844.44 L308.00,844.56 L308.50,844.68 L309.00,844.81 L309.50,844.93 L310.00,845.05 L310.50,845.17 L311.00,845.29 L311.50,845.41 L312.00,845.54 L312.50,845.66 L313.00,845.78 L313.50,845.90 L314.00,846.02 L314.50,846.14 L315.00,846.26 L315.50,846.39 L316.00,846.51 L316.50,846.63 L317.00,846.75 L317.50,846.87 L318.00,846.99 L318.50,847.11 L319.00,847.23 L319.50,847.36 L320.00,847.48 L320.50,847.60 L321.00,847.72 L321.50,847.84 L322.00,847.96 L322.50,848.08 L323.00,848.20 L323.50,848.32 L324.00,848.44 L324.50,848.57 L325.00,848.69 L325.50,848.81 L326.00,848.93 L326.50,849.05 L327.00,849.17 L327.50,849.29 L328.00,849.41 L328.50,849.53 L329.00,849.65 L329.50,849.77 L330.00,849.89 L330.50,850.02 L331.00,850.14 L331.50,850.26 L332.00,850.38 L332.50,850.50 L333.00,850.62 L333.50,850.74 L333.90,850.84" fill="none" stroke="#00ff00" stroke-width="2.20" stroke-linejoin="round" stroke-linecap="butt" clip-path="url(#cd)"/>
<path d="M249.60,829.00 L249.60,826.20" fill="none" stroke="#00ff00" stroke-width="1.00" stroke-linejoin="round" stroke-linecap="butt" clip-path="url(#cd)"/>
<path d="M257.20,831.00 L257.20,828.20" fill="none" stroke="#00ff00" stroke-width="1.00" stroke-linejoin="round" stroke-linecap="butt" clip-path="url(#cd)"/>
<path d="M412.20,727.68 C420.70,729.10 448.87,733.80 463.20,736.20 C477.53,738.60 490.45,740.73 498.20,742.10 C505.95,743.47 506.53,743.68 509.70,744.40 C512.87,745.12 515.28,745.73 517.20,746.40 C519.12,747.07 519.87,747.40 521.20,748.40 C522.53,749.40 523.75,749.92 525.20,752.40 C526.65,754.88 528.35,759.42 529.90,763.30 C531.45,767.18 533.08,771.72 534.50,775.70 C535.92,779.68 537.37,783.45 538.40,787.20 C539.43,790.95 540.05,794.62 540.70,798.20 C541.35,801.78 541.88,805.62 542.30,808.70 C542.72,811.78 542.90,814.03 543.20,816.70 C543.50,819.37 543.68,821.62 544.10,824.70 C544.52,827.78 545.05,831.62 545.70,835.20 C546.35,838.78 546.97,842.45 548.00,846.20 C549.03,849.95 550.48,853.78 551.90,857.70 C553.32,861.62 554.95,866.07 556.50,869.70 C558.05,873.33 559.75,877.17 561.20,879.50 C562.65,881.83 563.87,882.62 565.20,883.70 C566.53,884.78 567.28,885.25 569.20,886.00 C571.12,886.75 573.53,887.45 576.70,888.20 C579.87,888.95 580.45,889.20 588.20,890.50 C595.95,891.80 608.87,893.77 623.20,896.00 C637.53,898.23 665.70,902.58 674.20,903.90" fill="none" stroke="#000000" stroke-width="2.30" stroke-linejoin="round" stroke-linecap="butt" clip-path="url(#ce)"/>
<path d="M538.30,786.50 C538.85,788.08 540.72,792.75 541.60,796.00 C542.48,799.25 543.10,802.55 543.60,806.00 C544.10,809.45 544.27,813.03 544.60,816.70 C544.93,820.37 545.20,824.45 545.60,828.00 C546.00,831.55 546.55,834.92 547.00,838.00 C547.45,841.08 548.08,845.08 548.30,846.50" fill="none" stroke="#000000" stroke-width="0.90" stroke-linejoin="round" stroke-linecap="butt" clip-path="url(#ce)"/>
<path d="M412.50,789.76 L412.75,789.80 L413.00,789.83 L413.25,789.87 L413.50,789.90 L413.75,789.94 L414.00,789.98 L414.25,790.01 L414.50,790.05 L414.75,790.08 L415.00,790.12 L415.25,790.15 L415.50,790.19 L415.75,790.23 L416.00,790.26 L416.25,790.30 L416.50,790.33 L416.75,790.37 L417.00,790.40 L417.25,790.44 L417.50,790.48 L417.75,790.51 L418.00,790.55 L418.25,790.58 L418.50,790.62 L418.75,790.66 L419.00,790.69 L419.25,790.73 L419.50,790.76 L419.75,790.80 L420.00,790.83 L420.25,790.87 L420.50,790.91 L420.75,790.94 L421.00,790.98 L421.25,791.01 L421.50,791.05 L421.75,791.08 L422.00,791.12 L422.25,791.16 L422.50,791.19 L422.75,791.23 L423.00,791.26 L423.25,791.30 L423.50,791.33 L423.75,791.37 L424.00,791.41 L424.25,791.44 L424.50,791.48 L424.75,791.51 L425.00,791.55 L425.25,791.58 L425.50,791.62 L425.75,791.66 L426.00,791.69 L426.25,791.73 L426.50,791.76 L426.75,791.80 L427.00,791.84 L427.25,791.87 L427.50,791.91 L427.75,791.94 L428.00,791.98 L428.25,792.01 L428.50,792.05 L428.75,792.09 L429.00,792.12 L429.25,792.16 L429.50,792.19 L429.75,792.23 L430.00,792.26 L430.25,792.30 L430.50,792.34 L430.75,792.37 L431.00,792.41 L431.25,792.44 L431.50,792.48 L431.75,792.51 L432.00,792.55 L432.25,792.59 L432.50,792.62 L432.75,792.66 L433.00,792.69 L433.25,792.73 L433.50,792.76 L433.75,792.80 L434.00,792.84 L434.25,792.87 L434.50,792.91 L434.75,792.94 L435.00,792.98 L435.25,793.02 L435.50,793.05 L435.75,793.09 L436.00,793.12 L436.25,793.16 L436.50,793.19 L436.75,793.23 L437.00,793.27 L437.25,793.30 L437.50,793.34 L437.75,793.37 L438.00,793.41 L438.25,793.44 L438.50,793.48 L438.75,793.52 L439.00,793.55 L439.25,793.59 L439.50,793.62 L439.75,793.66 L440.00,793.69 L440.25,793.73 L440.50,793.77 L440.75,793.80 L441.00,793.84 L441.25,793.87 L441.50,793.91 L441.75,793.94 L442.00,793.98 L442.25,794.02 L442.50,794.05 L442.75,794.09 L443.00,794.12 L443.25,794.16 L443.50,794.20 L443.75,794.23 L444.00,794.27 L444.25,794.30 L444.50,794.34 L444.75,794.37 L445.00,794.41 L445.25,794.45 L445.50,794.48 L445.75,794.52 L446.00,794.55 L446.25,794.59 L446.50,794.62 L446.75,794.66 L447.00,794.70 L447.25,794.73 L447.50,794.77 L447.75,794.80 L448.00,794.84 L448.25,794.87 L448.50,794.91 L448.75,794.95 L449.00,794.98 L449.25,795.02 L449.50,795.05 L449.75,795.09 L450.00,795.13 L450.25,795.16 L450.50,795.20 L450.75,795.23 L451.00,795.27 L451.25,795.30 L451.50,795.34 L451.75,795.38 L452.00,795.41 L452.25,795.45 L452.50,795.48 L452.75,795.52 L453.00,795.55 L453.25,795.59 L453.50,795.63 L453.75,795.66 L454.00,795.70 L454.25,795.73 L454.50,795.77 L454.75,795.80 L455.00,795.84 L455.25,795.88 L455.50,795.91 L455.75,795.95 L456.00,795.98 L456.25,796.02 L456.50,796.06 L456.75,796.09 L457.00,796.13 L457.25,796.16 L457.50,796.20 L457.75,796.23 L458.00,796.27 L458.25,796.31 L458.50,796.34 L458.75,796.38 L459.00,796.41 L459.25,796.45 L459.50,796.48 L459.75,796.52 L460.00,796.56 L460.25,796.59 L460.50,796.63 L460.75,796.66 L461.00,796.70 L461.25,796.73 L461.50,796.77 L461.75,796.81 L462.00,796.84 L462.25,796.88 L462.50,796.91 L462.75,796.95 L463.00,796.99 L463.25,797.02 L463.50,797.06 L463.75,797.09 L464.00,797.13 L464.25,797.16 L464.50,797.20 L464.75,797.24 L465.00,797.27 L465.25,797.31 L465.50,797.34 L465.75,797.38 L466.00,797.41 L466.25,797.45 L466.50,797.49 L466.75,797.52 L467.00,797.56 L467.25,797.59 L467.50,797.63 L467.75,797.67 L468.00,797.70 L468.25,797.74 L468.50,797.77 L468.75,797.81 L469.00,797.84 L469.25,797.88 L469.50,797.92 L469.75,797.95 L470.00,797.99 L470.25,798.02 L470.50,798.06 L470.75,798.09 L471.00,798.13 L471.25,798.17 L471.50,798.20 L471.75,798.24 L472.00,798.27 L472.25,798.31 L472.50,798.35 L472.75,798.38 L473.00,798.42 L473.25,798.45 L473.50,798.49 L473.75,798.52 L474.00,798.56 L474.25,798.60 L474.50,798.63 L474.75,798.67 L475.00,798.70 L475.25,798.74 L475.50,798.78 L475.75,798.81 L476.00,798.85 L476.25,798.88 L476.50,798.92 L476.75,798.95 L477.00,798.99 L477.25,799.03 L477.50,799.06 L477.75,799.10 L478.00,799.13 L478.25,799.17 L478.50,799.20 L478.75,799.24 L479.00,799.28 L479.25,799.31 L479.50,799.35 L479.75,799.38 L480.00,799.42 L480.25,799.46 L480.50,799.49 L480.75,799.53 L481.00,799.56 L481.25,799.60 L481.50,799.63 L481.75,799.67 L482.00,799.71 L482.25,799.74 L482.50,799.78 L482.75,799.81 L483.00,799.85 L483.25,799.89 L483.50,799.92 L483.75,799.96 L484.00,799.99 L484.25,800.03 L484.50,800.06 L484.75,800.10 L485.00,800.14 L485.25,800.17 L485.50,800.21 L485.75,800.24 L486.00,800.28 L486.25,800.32 L486.50,800.35 L486.75,800.39 L487.00,800.42 L487.25,800.46 L487.50,800.49 L487.75,800.53 L488.00,800.57 L488.25,800.60 L488.50,800.64 L488.75,800.67 L489.00,800.71 L489.25,800.75 L489.50,800.78 L489.75,800.82 L490.00,800.85 L490.25,800.89 L490.50,800.93 L490.75,800.96 L491.00,801.00 L491.25,801.03 L491.50,801.07 L491.75,801.10 L492.00,801.14 L492.25,801.18 L492.50,801.21 L492.75,801.25 L493.00,801.28 L493.25,801.32 L493.50,801.36 L493.75,801.39 L494.00,801.43 L494.25,801.46 L494.50,801.50 L494.75,801.54 L495.00,801.57 L495.25,801.61 L495.50,801.64 L495.75,801.68 L496.00,801.72 L496.25,801.75 L496.50,801.79 L496.75,801.82 L497.00,801.86 L497.25,801.90 L497.50,801.93 L497.75,801.97 L498.00,802.00 L498.25,802.04 L498.50,802.08 L498.75,802.11 L499.00,802.15 L499.25,802.18 L499.50,802.22 L499.75,802.26 L500.00,802.29 L500.25,802.33 L500.50,802.36 L500.75,802.40 L501.00,802.44 L501.25,802.47 L501.50,802.51 L501.75,802.54 L502.00,802.58 L502.25,802.62 L502.50,802.65 L502.75,802.69 L503.00,802.72 L503.25,802.76 L503.50,802.80 L503.75,802.83 L504.00,802.87 L504.25,802.90 L504.50,802.94 L504.75,802.98 L505.00,803.01 L505.25,803.05 L505.50,803.09 L505.75,803.12 L506.00,803.16 L506.25,803.19 L506.50,803.23 L506.75,803.27 L507.00,803.30 L507.25,803.34 L507.50,803.38 L507.75,803.41 L508.00,803.45 L508.25,803.48 L508.50,803.52 L508.75,803.56 L509.00,803.59 L509.25,803.63 L509.50,803.67 L509.75,803.70 L510.00,803.74 L510.25,803.78 L510.50,803.81 L510.75,803.85 L511.00,803.88 L511.25,803.92 L511.50,803.96 L511.75,803.99 L512.00,804.03 L512.25,804.07 L512.50,804.10 L512.75,804.14 L513.00,804.18 L513.25,804.21 L513.50,804.25 L513.75,804.29 L514.00,804.32 L514.25,804.36 L514.50,804.40 L514.75,804.44 L515.00,804.47 L515.25,804.51 L515.50,804.55 L515.75,804.58 L516.00,804.62 L516.25,804.66 L516.50,804.69 L516.75,804.73 L517.00,804.77 L517.25,804.81 L517.50,804.84 L517.75,804.88 L518.00,804.92 L518.25,804.96 L518.50,804.99 L518.75,805.03 L519.00,805.07 L519.25,805.11 L519.50,805.14 L519.75,805.18 L520.00,805.22 L520.25,805.26 L520.50,805.30 L520.75,805.34 L521.00,805.37 L521.25,805.41 L521.50,805.45 L521.75,805.49 L522.00,805.53 L522.25,805.57 L522.50,805.61 L522.75,805.65 L523.00,805.69 L523.25,805.73 L523.50,805.77 L523.75,805.80 L524.00,805.85 L524.25,805.89 L524.50,805.93 L524.75,805.97 L525.00,806.01 L525.25,806.05 L525.50,806.09 L525.75,806.13 L526.00,806.17 L526.25,806.22 L526.50,806.26 L526.75,806.30 L527.00,806.35 L527.25,806.39 L527.50,806.43 L527.75,806.48 L528.00,806.52 L528.25,806.57 L528.50,806.61 L528.75,806.66 L529.00,806.71 L529.25,806.76 L529.50,806.81 L529.75,806.86 L530.00,806.91 L530.25,806.96 L530.50,807.01 L530.75,807.06 L531.00,807.12 L531.25,807.17 L531.50,807.23 L531.75,807.29 L532.00,807.35 L532.25,807.41 L532.50,807.47 L532.75,807.54 L533.00,807.61 L533.25,807.68 L533.50,807.75 L533.75,807.82 L534.00,807.90 L534.25,807.98 L534.50,808.07 L534.75,808.16 L535.00,808.25 L535.25,808.35 L535.50,808.45 L535.75,808.56 L536.00,808.67 L536.25,808.80 L536.50,808.92 L536.75,809.06 L537.00,809.20 L537.25,809.36 L537.50,809.52 L537.75,809.70 L538.00,809.88 L538.25,810.08 L538.50,810.29 L538.75,810.52 L539.00,810.76 L539.25,811.01 L539.50,811.28 L539.75,811.56 L540.00,811.86 L540.25,812.18 L540.50,812.51 L540.75,812.85 L541.00,813.21 L541.25,813.58 L541.50,813.96 L541.75,814.35 L542.00,814.74 L542.25,815.15 L542.50,815.55 L542.75,815.96 L543.00,816.37 L543.25,816.78 L543.50,817.19 L543.75,817.60 L544.00,818.01 L544.25,818.42 L544.50,818.82 L544.75,819.21 L545.00,819.59 L545.25,819.97 L545.50,820.33 L545.75,820.69 L546.00,821.02 L546.25,821.35 L546.50,821.66 L546.75,821.95 L547.00,822.23 L547.25,822.49 L547.50,822.74 L547.75,822.97 L548.00,823.19 L548.25,823.40 L548.50,823.59 L548.75,823.77 L549.00,823.94 L549.25,824.10 L549.50,824.25 L549.75,824.40 L550.00,824.53 L550.25,824.65 L550.50,824.77 L550.75,824.88 L551.00,824.99 L551.25,825.09 L551.50,825.19 L551.75,825.28 L552.00,825.37 L552.25,825.45 L552.50,825.53 L552.75,825.61 L553.00,825.68 L553.25,825.75 L553.50,825.82 L553.75,825.89 L554.00,825.95 L554.25,826.02 L554.50,826.08 L554.75,826.14 L555.00,826.19 L555.25,826.25 L555.50,826.31 L555.75,826.36 L556.00,826.41 L556.25,826.46 L556.50,826.51 L556.75,826.56 L557.00,826.61 L557.25,826.66 L557.50,826.71 L557.75,826.76 L558.00,826.80 L558.25,826.85 L558.50,826.90 L558.75,826.94 L559.00,826.98 L559.25,827.03 L559.50,827.07 L559.75,827.12 L560.00,827.16 L560.25,827.20 L560.50,827.24 L560.75,827.28 L561.00,827.33 L561.25,827.37 L561.50,827.41 L561.75,827.45 L562.00,827.49 L562.25,827.53 L562.50,827.57 L562.75,827.61 L563.00,827.65 L563.25,827.69 L563.50,827.73 L563.75,827.77 L564.00,827.81 L564.25,827.85 L564.50,827.89 L564.75,827.93 L565.00,827.96 L565.25,828.00 L565.50,828.04 L565.75,828.08 L566.00,828.12 L566.25,828.16 L566.50,828.19 L566.75,828.23 L567.00,828.27 L567.25,828.31 L567.50,828.35 L567.75,828.38 L568.00,828.42 L568.25,828.46 L568.50,828.50 L568.75,828.53 L569.00,828.57 L569.25,828.61 L569.50,828.65 L569.75,828.68 L570.00,828.72 L570.25,828.76 L570.50,828.79 L570.75,828.83 L571.00,828.87 L571.25,828.91 L571.50,828.94 L571.75,828.98 L572.00,829.02 L572.25,829.05 L572.50,829.09 L572.75,829.13 L573.00,829.16 L573.25,829.20 L573.50,829.24 L573.75,829.27 L574.00,829.31 L574.25,829.35 L574.50,829.38 L574.75,829.42 L575.00,829.46 L575.25,829.49 L575.50,829.53 L575.75,829.57 L576.00,829.60 L576.25,829.64 L576.50,829.68 L576.75,829.71 L577.00,829.75 L577.25,829.78 L577.50,829.82 L577.75,829.86 L578.00,829.89 L578.25,829.93 L578.50,829.97 L578.75,830.00 L579.00,830.04 L579.25,830.08 L579.50,830.11 L579.75,830.15 L580.00,830.18 L580.25,830.22 L580.50,830.26 L580.75,830.29 L581.00,830.33 L581.25,830.37 L581.50,830.40 L581.75,830.44 L582.00,830.47 L582.25,830.51 L582.50,830.55 L582.75,830.58 L583.00,830.62 L583.25,830.65 L583.50,830.69 L583.75,830.73 L584.00,830.76 L584.25,830.80 L584.50,830.83 L584.75,830.87 L585.00,830.91 L585.25,830.94 L585.50,830.98 L585.75,831.01 L586.00,831.05 L586.25,831.09 L586.50,831.12 L586.75,831.16 L587.00,831.20 L587.25,831.23 L587.50,831.27 L587.75,831.30 L588.00,831.34 L588.25,831.38 L588.50,831.41 L588.75,831.45 L589.00,831.48 L589.25,831.52 L589.50,831.55 L589.75,831.59 L590.00,831.63 L590.25,831.66 L590.50,831.70 L590.75,831.73 L591.00,831.77 L591.25,831.81 L591.50,831.84 L591.75,831.88 L592.00,831.91 L592.25,831.95 L592.50,831.99 L592.75,832.02 L593.00,832.06 L593.25,832.09 L593.50,832.13 L593.75,832.17 L594.00,832.20 L594.25,832.24 L594.50,832.27 L594.75,832.31 L595.00,832.35 L595.25,832.38 L595.50,832.42 L595.75,832.45 L596.00,832.49 L596.25,832.52 L596.50,832.56 L596.75,832.60 L597.00,832.63 L597.25,832.67 L597.50,832.70 L597.75,832.74 L598.00,832.78 L598.25,832.81 L598.50,832.85 L598.75,832.88 L599.00,832.92 L599.25,832.96 L599.50,832.99 L599.75,833.03 L600.00,833.06 L600.25,833.10 L600.50,833.13 L600.75,833.17 L601.00,833.21 L601.25,833.24 L601.50,833.28 L601.75,833.31 L602.00,833.35 L602.25,833.39 L602.50,833.42 L602.75,833.46 L603.00,833.49 L603.25,833.53 L603.50,833.56 L603.75,833.60 L604.00,833.64 L604.25,833.67 L604.50,833.71 L604.75,833.74 L605.00,833.78 L605.25,833.82 L605.50,833.85 L605.75,833.89 L606.00,833.92 L606.25,833.96 L606.50,833.99 L606.75,834.03 L607.00,834.07 L607.25,834.10 L607.50,834.14 L607.75,834.17 L608.00,834.21 L608.25,834.25 L608.50,834.28 L608.75,834.32 L609.00,834.35 L609.25,834.39 L609.50,834.42 L609.75,834.46 L610.00,834.50 L610.25,834.53 L610.50,834.57 L610.75,834.60 L611.00,834.64 L611.25,834.68 L611.50,834.71 L611.75,834.75 L612.00,834.78 L612.25,834.82 L612.50,834.85 L612.75,834.89 L613.00,834.93 L613.25,834.96 L613.50,835.00 L613.75,835.03 L614.00,835.07 L614.25,835.10 L614.50,835.14 L614.75,835.18 L615.00,835.21 L615.25,835.25 L615.50,835.28 L615.75,835.32 L616.00,835.36 L616.25,835.39 L616.50,835.43 L616.75,835.46 L617.00,835.50 L617.25,835.53 L617.50,835.57 L617.75,835.61 L618.00,835.64 L618.25,835.68 L618.50,835.71 L618.75,835.75 L619.00,835.78 L619.25,835.82 L619.50,835.86 L619.75,835.89 L620.00,835.93 L620.25,835.96 L620.50,836.00 L620.75,836.04 L621.00,836.07 L621.25,836.11 L621.50,836.14 L621.75,836.18 L622.00,836.21 L622.25,836.25 L622.50,836.29 L622.75,836.32 L623.00,836.36 L623.25,836.39 L623.50,836.43 L623.75,836.46 L624.00,836.50 L624.25,836.54 L624.50,836.57 L624.75,836.61 L625.00,836.64 L625.25,836.68 L625.50,836.72 L625.75,836.75 L626.00,836.79 L626.25,836.82 L626.50,836.86 L626.75,836.89 L627.00,836.93 L627.25,836.97 L627.50,837.00 L627.75,837.04 L628.00,837.07 L628.25,837.11 L628.50,837.14 L628.75,837.18 L629.00,837.22 L629.25,837.25 L629.50,837.29 L629.75,837.32 L630.00,837.36 L630.25,837.39 L630.50,837.43 L630.75,837.47 L631.00,837.50 L631.25,837.54 L631.50,837.57 L631.75,837.61 L632.00,837.65 L632.25,837.68 L632.50,837.72 L632.75,837.75 L633.00,837.79 L633.25,837.82 L633.50,837.86 L633.75,837.90 L634.00,837.93 L634.25,837.97 L634.50,838.00 L634.75,838.04 L635.00,838.07 L635.25,838.11 L635.50,838.15 L635.75,838.18 L636.00,838.22 L636.25,838.25 L636.50,838.29 L636.75,838.32 L637.00,838.36 L637.25,838.40 L637.50,838.43 L637.75,838.47 L638.00,838.50 L638.25,838.54 L638.50,838.58 L638.75,838.61 L639.00,838.65 L639.25,838.68 L639.50,838.72 L639.75,838.75 L640.00,838.79 L640.25,838.83 L640.50,838.86 L640.75,838.90 L641.00,838.93 L641.25,838.97 L641.50,839.00 L641.75,839.04 L642.00,839.08 L642.25,839.11 L642.50,839.15 L642.75,839.18 L643.00,839.22 L643.25,839.25 L643.50,839.29 L643.75,839.33 L644.00,839.36 L644.25,839.40 L644.50,839.43 L644.75,839.47 L645.00,839.51 L645.25,839.54 L645.50,839.58 L645.75,839.61 L646.00,839.65 L646.25,839.68 L646.50,839.72 L646.75,839.76 L647.00,839.79 L647.25,839.83 L647.50,839.86 L647.75,839.90 L648.00,839.93 L648.25,839.97 L648.50,840.01 L648.75,840.04 L649.00,840.08 L649.25,840.11 L649.50,840.15 L649.75,840.18 L650.00,840.22 L650.25,840.26 L650.50,840.29 L650.75,840.33 L651.00,840.36 L651.25,840.40 L651.50,840.43 L651.75,840.47 L652.00,840.51 L652.25,840.54 L652.50,840.58 L652.75,840.61 L653.00,840.65 L653.25,840.69 L653.50,840.72 L653.75,840.76 L654.00,840.79 L654.25,840.83 L654.50,840.86 L654.75,840.90 L655.00,840.94 L655.25,840.97 L655.50,841.01 L655.75,841.04 L656.00,841.08 L656.25,841.11 L656.50,841.15 L656.75,841.19 L657.00,841.22 L657.25,841.26 L657.50,841.29 L657.75,841.33 L658.00,841.36 L658.25,841.40 L658.50,841.44 L658.75,841.47 L659.00,841.51 L659.25,841.54 L659.50,841.58 L659.75,841.62 L660.00,841.65 L660.25,841.69 L660.50,841.72 L660.75,841.76 L661.00,841.79 L661.25,841.83 L661.50,841.87 L661.75,841.90 L662.00,841.94 L662.25,841.97 L662.50,842.01 L662.75,842.04 L663.00,842.08 L663.25,842.12 L663.50,842.15 L663.75,842.19 L664.00,842.22 L664.25,842.26 L664.50,842.29 L664.75,842.33 L665.00,842.37 L665.25,842.40 L665.50,842.44 L665.75,842.47 L666.00,842.51 L666.25,842.54 L666.50,842.58 L666.75,842.62 L667.00,842.65 L667.25,842.69 L667.50,842.72 L667.75,842.76 L668.00,842.80 L668.25,842.83 L668.50,842.87 L668.75,842.90 L669.00,842.94 L669.25,842.97 L669.50,843.01 L669.75,843.05 L670.00,843.08 L670.25,843.12 L670.50,843.15 L670.75,843.19 L671.00,843.22 L671.25,843.26 L671.50,843.30 L671.75,843.33 L672.00,843.37 L672.25,843.40 L672.50,843.44 L672.75,843.47 L673.00,843.51 L673.25,843.55 L673.50,843.58 L673.75,843.62 L673.90,843.64" fill="none" stroke="#ff0000" stroke-width="2.40" stroke-linejoin="round" stroke-linecap="butt" clip-path="url(#ce)"/>
<path d="M412.50,823.20 L412.75,823.23 L413.00,823.26 L413.25,823.30 L413.50,823.33 L413.75,823.36 L414.00,823.39 L414.25,823.42 L414.50,823.46 L414.75,823.49 L415.00,823.52 L415.25,823.55 L415.50,823.58 L415.75,823.61 L416.00,823.65 L416.25,823.68 L416.50,823.71 L416.75,823.74 L417.00,823.77 L417.25,823.80 L417.50,823.84 L417.75,823.87 L418.00,823.90 L418.25,823.93 L418.50,823.96 L418.75,823.99 L419.00,824.03 L419.25,824.06 L419.50,824.09 L419.75,824.12 L420.00,824.15 L420.25,824.19 L420.50,824.22 L420.75,824.25 L421.00,824.28 L421.25,824.31 L421.50,824.34 L421.75,824.38 L422.00,824.41 L422.25,824.44 L422.50,824.47 L422.75,824.50 L423.00,824.53 L423.25,824.57 L423.50,824.60 L423.75,824.63 L424.00,824.66 L424.25,824.69 L424.50,824.73 L424.75,824.76 L425.00,824.79 L425.25,824.82 L425.50,824.85 L425.75,824.88 L426.00,824.92 L426.25,824.95 L426.50,824.98 L426.75,825.01 L427.00,825.04 L427.25,825.07 L427.50,825.11 L427.75,825.14 L428.00,825.17 L428.25,825.20 L428.50,825.23 L428.75,825.26 L429.00,825.30 L429.25,825.33 L429.50,825.36 L429.75,825.39 L430.00,825.42 L430.25,825.46 L430.50,825.49 L430.75,825.52 L431.00,825.55 L431.25,825.58 L431.50,825.61 L431.75,825.65 L432.00,825.68 L432.25,825.71 L432.50,825.74 L432.75,825.77 L433.00,825.80 L433.25,825.84 L433.50,825.87 L433.75,825.90 L434.00,825.93 L434.25,825.96 L434.50,826.00 L434.75,826.03 L435.00,826.06 L435.25,826.09 L435.50,826.12 L435.75,826.15 L436.00,826.19 L436.25,826.22 L436.50,826.25 L436.75,826.28 L437.00,826.31 L437.25,826.34 L437.50,826.38 L437.75,826.41 L438.00,826.44 L438.25,826.47 L438.50,826.50 L438.75,826.53 L439.00,826.57 L439.25,826.60 L439.50,826.63 L439.75,826.66 L440.00,826.69 L440.25,826.73 L440.50,826.76 L440.75,826.79 L441.00,826.82 L441.25,826.85 L441.50,826.88 L441.75,826.92 L442.00,826.95 L442.25,826.98 L442.50,827.01 L442.75,827.04 L443.00,827.07 L443.25,827.11 L443.50,827.14 L443.75,827.17 L444.00,827.20 L444.25,827.23 L444.50,827.27 L444.75,827.30 L445.00,827.33 L445.25,827.36 L445.50,827.39 L445.75,827.42 L446.00,827.46 L446.25,827.49 L446.50,827.52 L446.75,827.55 L447.00,827.58 L447.25,827.61 L447.50,827.65 L447.75,827.68 L448.00,827.71 L448.25,827.74 L448.50,827.77 L448.75,827.80 L449.00,827.84 L449.25,827.87 L449.50,827.90 L449.75,827.93 L450.00,827.96 L450.25,828.00 L450.50,828.03 L450.75,828.06 L451.00,828.09 L451.25,828.12 L451.50,828.15 L451.75,828.19 L452.00,828.22 L452.25,828.25 L452.50,828.28 L452.75,828.31 L453.00,828.34 L453.25,828.38 L453.50,828.41 L453.75,828.44 L454.00,828.47 L454.25,828.50 L454.50,828.54 L454.75,828.57 L455.00,828.60 L455.25,828.63 L455.50,828.66 L455.75,828.69 L456.00,828.73 L456.25,828.76 L456.50,828.79 L456.75,828.82 L457.00,828.85 L457.25,828.88 L457.50,828.92 L457.75,828.95 L458.00,828.98 L458.25,829.01 L458.50,829.04 L458.75,829.07 L459.00,829.11 L459.25,829.14 L459.50,829.17 L459.75,829.20 L460.00,829.23 L460.25,829.27 L460.50,829.30 L460.75,829.33 L461.00,829.36 L461.25,829.39 L461.50,829.42 L461.75,829.46 L462.00,829.49 L462.25,829.52 L462.50,829.55 L462.75,829.58 L463.00,829.61 L463.25,829.65 L463.50,829.68 L463.75,829.71 L464.00,829.74 L464.25,829.77 L464.50,829.81 L464.75,829.84 L465.00,829.87 L465.25,829.90 L465.50,829.93 L465.75,829.96 L466.00,830.00 L466.25,830.03 L466.50,830.06 L466.75,830.09 L467.00,830.12 L467.25,830.15 L467.50,830.19 L467.75,830.22 L468.00,830.25 L468.25,830.28 L468.50,830.31 L468.75,830.34 L469.00,830.38 L469.25,830.41 L469.50,830.44 L469.75,830.47 L470.00,830.50 L470.25,830.54 L470.50,830.57 L470.75,830.60 L471.00,830.63 L471.25,830.66 L471.50,830.69 L471.75,830.73 L472.00,830.76 L472.25,830.79 L472.50,830.82 L472.75,830.85 L473.00,830.88 L473.25,830.92 L473.50,830.95 L473.75,830.98 L474.00,831.01 L474.25,831.04 L474.50,831.08 L474.75,831.11 L475.00,831.14 L475.25,831.17 L475.50,831.20 L475.75,831.23 L476.00,831.27 L476.25,831.30 L476.50,831.33 L476.75,831.36 L477.00,831.39 L477.25,831.42 L477.50,831.46 L477.75,831.49 L478.00,831.52 L478.25,831.55 L478.50,831.58 L478.75,831.61 L479.00,831.65 L479.25,831.68 L479.50,831.71 L479.75,831.74 L480.00,831.77 L480.25,831.81 L480.50,831.84 L480.75,831.87 L481.00,831.90 L481.25,831.93 L481.50,831.96 L481.75,832.00 L482.00,832.03 L482.25,832.06 L482.50,832.09 L482.75,832.12 L483.00,832.15 L483.25,832.19 L483.50,832.22 L483.75,832.25 L484.00,832.28 L484.25,832.31 L484.50,832.35 L484.75,832.38 L485.00,832.41 L485.25,832.44 L485.50,832.47 L485.75,832.50 L486.00,832.54 L486.25,832.57 L486.50,832.60 L486.75,832.63 L487.00,832.66 L487.25,832.69 L487.50,832.73 L487.75,832.76 L488.00,832.79 L488.25,832.82 L488.50,832.85 L488.75,832.88 L489.00,832.92 L489.25,832.95 L489.50,832.98 L489.75,833.01 L490.00,833.04 L490.25,833.08 L490.50,833.11 L490.75,833.14 L491.00,833.17 L491.25,833.20 L491.50,833.23 L491.75,833.27 L492.00,833.30 L492.25,833.33 L492.50,833.36 L492.75,833.39 L493.00,833.42 L493.25,833.46 L493.50,833.49 L493.75,833.52 L494.00,833.55 L494.25,833.58 L494.50,833.62 L494.75,833.65 L495.00,833.68 L495.25,833.71 L495.50,833.74 L495.75,833.77 L496.00,833.81 L496.25,833.84 L496.50,833.87 L496.75,833.90 L497.00,833.93 L497.25,833.96 L497.50,834.00 L497.75,834.03 L498.00,834.06 L498.25,834.09 L498.50,834.12 L498.75,834.15 L499.00,834.19 L499.25,834.22 L499.50,834.25 L499.75,834.28 L500.00,834.31 L500.25,834.35 L500.50,834.38 L500.75,834.41 L501.00,834.44 L501.25,834.47 L501.50,834.50 L501.75,834.54 L502.00,834.57 L502.25,834.60 L502.50,834.63 L502.75,834.66 L503.00,834.69 L503.25,834.73 L503.50,834.76 L503.75,834.79 L504.00,834.82 L504.25,834.85 L504.50,834.88 L504.75,834.92 L505.00,834.95 L505.25,834.98 L505.50,835.01 L505.75,835.04 L506.00,835.08 L506.25,835.11 L506.50,835.14 L506.75,835.17 L507.00,835.20 L507.25,835.23 L507.50,835.27 L507.75,835.30 L508.00,835.33 L508.25,835.36 L508.50,835.39 L508.75,835.42 L509.00,835.46 L509.25,835.49 L509.50,835.52 L509.75,835.55 L510.00,835.58 L510.25,835.61 L510.50,835.65 L510.75,835.68 L511.00,835.71 L511.25,835.74 L511.50,835.77 L511.75,835.80 L512.00,835.84 L512.25,835.87 L512.50,835.90 L512.75,835.93 L513.00,835.96 L513.25,835.99 L513.50,836.02 L513.75,836.06 L514.00,836.09 L514.25,836.12 L514.50,836.15 L514.75,836.18 L515.00,836.21 L515.25,836.24 L515.50,836.28 L515.75,836.31 L516.00,836.34 L516.25,836.37 L516.50,836.40 L516.75,836.43 L517.00,836.46 L517.25,836.49 L517.50,836.52 L517.75,836.55 L518.00,836.58 L518.25,836.61 L518.50,836.64 L518.75,836.67 L519.00,836.70 L519.25,836.73 L519.50,836.76 L519.75,836.79 L520.00,836.82 L520.25,836.85 L520.50,836.88 L520.75,836.90 L521.00,836.93 L521.25,836.96 L521.50,836.98 L521.75,837.01 L522.00,837.03 L522.25,837.06 L522.50,837.08 L522.75,837.10 L523.00,837.12 L523.25,837.14 L523.50,837.16 L523.75,837.17 L524.00,837.19 L524.25,837.20 L524.50,837.21 L524.75,837.21 L525.00,837.21 L525.25,837.21 L525.50,837.20 L525.75,837.19 L526.00,837.17 L526.25,837.15 L526.50,837.12 L526.75,837.08 L527.00,837.03 L527.25,836.97 L527.50,836.90 L527.75,836.82 L528.00,836.73 L528.25,836.62 L528.50,836.50 L528.75,836.36 L529.00,836.21 L529.25,836.04 L529.50,835.85 L529.75,835.65 L530.00,835.43 L530.25,835.19 L530.50,834.94 L530.75,834.67 L531.00,834.39 L531.25,834.10 L531.50,833.80 L531.75,833.48 L532.00,833.16 L532.25,832.83 L532.50,832.49 L532.75,832.15 L533.00,831.80 L533.25,831.44 L533.50,831.09 L533.75,830.73 L534.00,830.36 L534.25,830.00 L534.50,829.63 L534.75,829.26 L535.00,828.89 L535.25,828.53 L535.50,828.16 L535.75,827.78 L536.00,827.41 L536.25,827.04 L536.50,826.67 L536.75,826.30 L537.00,825.93 L537.25,825.56 L537.50,825.18 L537.75,824.81 L538.00,824.44 L538.25,824.07 L538.50,823.70 L538.75,823.32 L539.00,822.95 L539.25,822.58 L539.50,822.21 L539.75,821.83 L540.00,821.46 L540.25,821.09 L540.50,820.72 L540.75,820.35 L541.00,819.97 L541.25,819.60 L541.50,819.23 L541.75,818.86 L542.00,818.49 L542.25,818.11 L542.50,817.74 L542.75,817.37 L543.00,817.00 L543.25,816.63 L543.50,816.25 L543.75,815.88 L544.00,815.51 L544.25,815.14 L544.50,814.77 L544.75,814.39 L545.00,814.02 L545.25,813.65 L545.50,813.28 L545.75,812.90 L546.00,812.53 L546.25,812.16 L546.50,811.79 L546.75,811.42 L547.00,811.04 L547.25,810.67 L547.50,810.30 L547.75,809.93 L548.00,809.56 L548.25,809.18 L548.50,808.81 L548.75,808.44 L549.00,808.07 L549.25,807.70 L549.50,807.32 L549.75,806.95 L550.00,806.58 L550.25,806.21 L550.50,805.84 L550.75,805.47 L551.00,805.10 L551.25,804.73 L551.50,804.36 L551.75,803.99 L552.00,803.62 L552.25,803.26 L552.50,802.89 L552.75,802.53 L553.00,802.17 L553.25,801.82 L553.50,801.46 L553.75,801.12 L554.00,800.77 L554.25,800.44 L554.50,800.11 L554.75,799.79 L555.00,799.48 L555.25,799.18 L555.50,798.89 L555.75,798.62 L556.00,798.36 L556.25,798.11 L556.50,797.88 L556.75,797.67 L557.00,797.47 L557.25,797.29 L557.50,797.13 L557.75,796.98 L558.00,796.85 L558.25,796.73 L558.50,796.63 L558.75,796.54 L559.00,796.47 L559.25,796.40 L559.50,796.35 L559.75,796.30 L560.00,796.27 L560.25,796.24 L560.50,796.22 L560.75,796.20 L561.00,796.19 L561.25,796.19 L561.50,796.19 L561.75,796.19 L562.00,796.20 L562.25,796.21 L562.50,796.22 L562.75,796.23 L563.00,796.25 L563.25,796.27 L563.50,796.29 L563.75,796.31 L564.00,796.33 L564.25,796.35 L564.50,796.38 L564.75,796.40 L565.00,796.43 L565.25,796.45 L565.50,796.48 L565.75,796.51 L566.00,796.53 L566.25,796.56 L566.50,796.59 L566.75,796.62 L567.00,796.65 L567.25,796.68 L567.50,796.71 L567.75,796.74 L568.00,796.77 L568.25,796.80 L568.50,796.83 L568.75,796.86 L569.00,796.89 L569.25,796.92 L569.50,796.95 L569.75,796.98 L570.00,797.01 L570.25,797.04 L570.50,797.07 L570.75,797.11 L571.00,797.14 L571.25,797.17 L571.50,797.20 L571.75,797.23 L572.00,797.26 L572.25,797.29 L572.50,797.33 L572.75,797.36 L573.00,797.39 L573.25,797.42 L573.50,797.45 L573.75,797.48 L574.00,797.51 L574.25,797.55 L574.50,797.58 L574.75,797.61 L575.00,797.64 L575.25,797.67 L575.50,797.70 L575.75,797.74 L576.00,797.77 L576.25,797.80 L576.50,797.83 L576.75,797.86 L577.00,797.89 L577.25,797.93 L577.50,797.96 L577.75,797.99 L578.00,798.02 L578.25,798.05 L578.50,798.08 L578.75,798.12 L579.00,798.15 L579.25,798.18 L579.50,798.21 L579.75,798.24 L580.00,798.27 L580.25,798.31 L580.50,798.34 L580.75,798.37 L581.00,798.40 L581.25,798.43 L581.50,798.46 L581.75,798.50 L582.00,798.53 L582.25,798.56 L582.50,798.59 L582.75,798.62 L583.00,798.65 L583.25,798.69 L583.50,798.72 L583.75,798.75 L584.00,798.78 L584.25,798.81 L584.50,798.85 L584.75,798.88 L585.00,798.91 L585.25,798.94 L585.50,798.97 L585.75,799.00 L586.00,799.04 L586.25,799.07 L586.50,799.10 L586.75,799.13 L587.00,799.16 L587.25,799.19 L587.50,799.23 L587.75,799.26 L588.00,799.29 L588.25,799.32 L588.50,799.35 L588.75,799.38 L589.00,799.42 L589.25,799.45 L589.50,799.48 L589.75,799.51 L590.00,799.54 L590.25,799.58 L590.50,799.61 L590.75,799.64 L591.00,799.67 L591.25,799.70 L591.50,799.73 L591.75,799.77 L592.00,799.80 L592.25,799.83 L592.50,799.86 L592.75,799.89 L593.00,799.92 L593.25,799.96 L593.50,799.99 L593.75,800.02 L594.00,800.05 L594.25,800.08 L594.50,800.12 L594.75,800.15 L595.00,800.18 L595.25,800.21 L595.50,800.24 L595.75,800.27 L596.00,800.31 L596.25,800.34 L596.50,800.37 L596.75,800.40 L597.00,800.43 L597.25,800.46 L597.50,800.50 L597.75,800.53 L598.00,800.56 L598.25,800.59 L598.50,800.62 L598.75,800.65 L599.00,800.69 L599.25,800.72 L599.50,800.75 L599.75,800.78 L600.00,800.81 L600.25,800.85 L600.50,800.88 L600.75,800.91 L601.00,800.94 L601.25,800.97 L601.50,801.00 L601.75,801.04 L602.00,801.07 L602.25,801.10 L602.50,801.13 L602.75,801.16 L603.00,801.19 L603.25,801.23 L603.50,801.26 L603.75,801.29 L604.00,801.32 L604.25,801.35 L604.50,801.39 L604.75,801.42 L605.00,801.45 L605.25,801.48 L605.50,801.51 L605.75,801.54 L606.00,801.58 L606.25,801.61 L606.50,801.64 L606.75,801.67 L607.00,801.70 L607.25,801.73 L607.50,801.77 L607.75,801.80 L608.00,801.83 L608.25,801.86 L608.50,801.89 L608.75,801.92 L609.00,801.96 L609.25,801.99 L609.50,802.02 L609.75,802.05 L610.00,802.08 L610.25,802.12 L610.50,802.15 L610.75,802.18 L611.00,802.21 L611.25,802.24 L611.50,802.27 L611.75,802.31 L612.00,802.34 L612.25,802.37 L612.50,802.40 L612.75,802.43 L613.00,802.46 L613.25,802.50 L613.50,802.53 L613.75,802.56 L614.00,802.59 L614.25,802.62 L614.50,802.66 L614.75,802.69 L615.00,802.72 L615.25,802.75 L615.50,802.78 L615.75,802.81 L616.00,802.85 L616.25,802.88 L616.50,802.91 L616.75,802.94 L617.00,802.97 L617.25,803.00 L617.50,803.04 L617.75,803.07 L618.00,803.10 L618.25,803.13 L618.50,803.16 L618.75,803.19 L619.00,803.23 L619.25,803.26 L619.50,803.29 L619.75,803.32 L620.00,803.35 L620.25,803.39 L620.50,803.42 L620.75,803.45 L621.00,803.48 L621.25,803.51 L621.50,803.54 L621.75,803.58 L622.00,803.61 L622.25,803.64 L622.50,803.67 L622.75,803.70 L623.00,803.73 L623.25,803.77 L623.50,803.80 L623.75,803.83 L624.00,803.86 L624.25,803.89 L624.50,803.93 L624.75,803.96 L625.00,803.99 L625.25,804.02 L625.50,804.05 L625.75,804.08 L626.00,804.12 L626.25,804.15 L626.50,804.18 L626.75,804.21 L627.00,804.24 L627.25,804.27 L627.50,804.31 L627.75,804.34 L628.00,804.37 L628.25,804.40 L628.50,804.43 L628.75,804.46 L629.00,804.50 L629.25,804.53 L629.50,804.56 L629.75,804.59 L630.00,804.62 L630.25,804.66 L630.50,804.69 L630.75,804.72 L631.00,804.75 L631.25,804.78 L631.50,804.81 L631.75,804.85 L632.00,804.88 L632.25,804.91 L632.50,804.94 L632.75,804.97 L633.00,805.00 L633.25,805.04 L633.50,805.07 L633.75,805.10 L634.00,805.13 L634.25,805.16 L634.50,805.20 L634.75,805.23 L635.00,805.26 L635.25,805.29 L635.50,805.32 L635.75,805.35 L636.00,805.39 L636.25,805.42 L636.50,805.45 L636.75,805.48 L637.00,805.51 L637.25,805.54 L637.50,805.58 L637.75,805.61 L638.00,805.64 L638.25,805.67 L638.50,805.70 L638.75,805.73 L639.00,805.77 L639.25,805.80 L639.50,805.83 L639.75,805.86 L640.00,805.89 L640.25,805.93 L640.50,805.96 L640.75,805.99 L641.00,806.02 L641.25,806.05 L641.50,806.08 L641.75,806.12 L642.00,806.15 L642.25,806.18 L642.50,806.21 L642.75,806.24 L643.00,806.27 L643.25,806.31 L643.50,806.34 L643.75,806.37 L644.00,806.40 L644.25,806.43 L644.50,806.47 L644.75,806.50 L645.00,806.53 L645.25,806.56 L645.50,806.59 L645.75,806.62 L646.00,806.66 L646.25,806.69 L646.50,806.72 L646.75,806.75 L647.00,806.78 L647.25,806.81 L647.50,806.85 L647.75,806.88 L648.00,806.91 L648.25,806.94 L648.50,806.97 L648.75,807.00 L649.00,807.04 L649.25,807.07 L649.50,807.10 L649.75,807.13 L650.00,807.16 L650.25,807.20 L650.50,807.23 L650.75,807.26 L651.00,807.29 L651.25,807.32 L651.50,807.35 L651.75,807.39 L652.00,807.42 L652.25,807.45 L652.50,807.48 L652.75,807.51 L653.00,807.54 L653.25,807.58 L653.50,807.61 L653.75,807.64 L654.00,807.67 L654.25,807.70 L654.50,807.74 L654.75,807.77 L655.00,807.80 L655.25,807.83 L655.50,807.86 L655.75,807.89 L656.00,807.93 L656.25,807.96 L656.50,807.99 L656.75,808.02 L657.00,808.05 L657.25,808.08 L657.50,808.12 L657.75,808.15 L658.00,808.18 L658.25,808.21 L658.50,808.24 L658.75,808.27 L659.00,808.31 L659.25,808.34 L659.50,808.37 L659.75,808.40 L660.00,808.43 L660.25,808.47 L660.50,808.50 L660.75,808.53 L661.00,808.56 L661.25,808.59 L661.50,808.62 L661.75,808.66 L662.00,808.69 L662.25,808.72 L662.50,808.75 L662.75,808.78 L663.00,808.81 L663.25,808.85 L663.50,808.88 L663.75,808.91 L664.00,808.94 L664.25,808.97 L664.50,809.01 L664.75,809.04 L665.00,809.07 L665.25,809.10 L665.50,809.13 L665.75,809.16 L666.00,809.20 L666.25,809.23 L666.50,809.26 L666.75,809.29 L667.00,809.32 L667.25,809.35 L667.50,809.39 L667.75,809.42 L668.00,809.45 L668.25,809.48 L668.50,809.51 L668.75,809.54 L669.00,809.58 L669.25,809.61 L669.50,809.64 L669.75,809.67 L670.00,809.70 L670.25,809.74 L670.50,809.77 L670.75,809.80 L671.00,809.83 L671.25,809.86 L671.50,809.89 L671.75,809.93 L672.00,809.96 L672.25,809.99 L672.50,810.02 L672.75,810.05 L673.00,810.08 L673.25,810.12 L673.50,810.15 L673.75,810.18 L673.90,810.20" fill="none" stroke="#0000ff" stroke-width="2.50" stroke-linejoin="round" stroke-linecap="butt" clip-path="url(#ce)"/>
<path d="M412.50,811.28 L413.00,811.30 L413.50,811.32 L414.00,811.34 L414.50,811.36 L415.00,811.38 L415.50,811.40 L416.00,811.42 L416.50,811.44 L417.00,811.46 L417.50,811.48 L418.00,811.50 L418.50,811.52 L419.00,811.55 L419.50,811.57 L420.00,811.59 L420.50,811.61 L421.00,811.63 L421.50,811.65 L422.00,811.67 L422.50,811.69 L423.00,811.71 L423.50,811.73 L424.00,811.75 L424.50,811.77 L425.00,811.79 L425.50,811.82 L426.00,811.84 L426.50,811.86 L427.00,811.88 L427.50,811.90 L428.00,811.92 L428.50,811.94 L429.00,811.96 L429.50,811.98 L430.00,812.00 L430.50,812.02 L431.00,812.04 L431.50,812.06 L432.00,812.09 L432.50,812.11 L433.00,812.13 L433.50,812.15 L434.00,812.17 L434.50,812.19 L435.00,812.21 L435.50,812.23 L436.00,812.25 L436.50,812.27 L437.00,812.29 L437.50,812.31 L438.00,812.33 L438.50,812.35 L439.00,812.38 L439.50,812.40 L440.00,812.42 L440.50,812.44 L441.00,812.46 L441.50,812.48 L442.00,812.50 L442.50,812.52 L443.00,812.54 L443.50,812.56 L444.00,812.58 L444.50,812.60 L445.00,812.62 L445.50,812.65 L446.00,812.67 L446.50,812.69 L447.00,812.71 L447.50,812.73 L448.00,812.75 L448.50,812.77 L449.00,812.79 L449.50,812.81 L450.00,812.83 L450.50,812.85 L451.00,812.87 L451.50,812.89 L452.00,812.92 L452.50,812.94 L453.00,812.96 L453.50,812.98 L454.00,813.00 L454.50,813.02 L455.00,813.04 L455.50,813.06 L456.00,813.08 L456.50,813.10 L457.00,813.12 L457.50,813.14 L458.00,813.16 L458.50,813.18 L459.00,813.21 L459.50,813.23 L460.00,813.25 L460.50,813.27 L461.00,813.29 L461.50,813.31 L462.00,813.33 L462.50,813.35 L463.00,813.37 L463.50,813.39 L464.00,813.41 L464.50,813.43 L465.00,813.45 L465.50,813.48 L466.00,813.50 L466.50,813.52 L467.00,813.54 L467.50,813.56 L468.00,813.58 L468.50,813.60 L469.00,813.62 L469.50,813.64 L470.00,813.66 L470.50,813.68 L471.00,813.70 L471.50,813.72 L472.00,813.75 L472.50,813.77 L473.00,813.79 L473.50,813.81 L474.00,813.83 L474.50,813.85 L475.00,813.87 L475.50,813.89 L476.00,813.91 L476.50,813.93 L477.00,813.95 L477.50,813.97 L478.00,813.99 L478.50,814.01 L479.00,814.04 L479.50,814.06 L480.00,814.08 L480.50,814.10 L481.00,814.12 L481.50,814.14 L482.00,814.16 L482.50,814.18 L483.00,814.20 L483.50,814.22 L484.00,814.24 L484.50,814.26 L485.00,814.28 L485.50,814.31 L486.00,814.33 L486.50,814.35 L487.00,814.37 L487.50,814.39 L488.00,814.41 L488.50,814.43 L489.00,814.45 L489.50,814.47 L490.00,814.49 L490.50,814.51 L491.00,814.53 L491.50,814.55 L492.00,814.58 L492.50,814.60 L493.00,814.62 L493.50,814.64 L494.00,814.66 L494.50,814.68 L495.00,814.70 L495.50,814.72 L496.00,814.74 L496.50,814.76 L497.00,814.78 L497.50,814.80 L498.00,814.82 L498.50,814.84 L499.00,814.87 L499.50,814.89 L500.00,814.91 L500.50,814.93 L501.00,814.95 L501.50,814.97 L502.00,814.99 L502.50,815.01 L503.00,815.03 L503.50,815.05 L504.00,815.07 L504.50,815.09 L505.00,815.11 L505.50,815.14 L506.00,815.16 L506.50,815.18 L507.00,815.20 L507.50,815.22 L508.00,815.24 L508.50,815.26 L509.00,815.28 L509.50,815.30 L510.00,815.32 L510.50,815.34 L511.00,815.36 L511.50,815.38 L512.00,815.41 L512.50,815.43 L513.00,815.45 L513.50,815.47 L514.00,815.49 L514.50,815.51 L515.00,815.53 L515.50,815.55 L516.00,815.57 L516.50,815.59 L517.00,815.61 L517.50,815.63 L518.00,815.65 L518.50,815.67 L519.00,815.70 L519.50,815.72 L520.00,815.74 L520.50,815.76 L521.00,815.78 L521.50,815.80 L522.00,815.82 L522.50,815.84 L523.00,815.86 L523.50,815.88 L524.00,815.90 L524.50,815.92 L525.00,815.94 L525.50,815.97 L526.00,815.99 L526.50,816.01 L527.00,816.03 L527.50,816.05 L528.00,816.07 L528.50,816.09 L529.00,816.11 L529.50,816.13 L530.00,816.15 L530.50,816.17 L531.00,816.19 L531.50,816.21 L532.00,816.24 L532.50,816.26 L533.00,816.28 L533.50,816.30 L534.00,816.32 L534.50,816.34 L535.00,816.36 L535.50,816.38 L536.00,816.40 L536.50,816.42 L537.00,816.44 L537.50,816.46 L538.00,816.48 L538.50,816.50 L539.00,816.53 L539.50,816.55 L540.00,816.57 L540.50,816.59 L541.00,816.61 L541.50,816.63 L542.00,816.65 L542.50,816.67 L543.00,816.69 L543.50,816.71 L544.00,816.73 L544.50,816.75 L545.00,816.77 L545.50,816.80 L546.00,816.82 L546.50,816.84 L547.00,816.86 L547.50,816.88 L548.00,816.90 L548.50,816.92 L549.00,816.94 L549.50,816.96 L550.00,816.98 L550.50,817.00 L551.00,817.02 L551.50,817.04 L552.00,817.07 L552.50,817.09 L553.00,817.11 L553.50,817.13 L554.00,817.15 L554.50,817.17 L555.00,817.19 L555.50,817.21 L556.00,817.23 L556.50,817.25 L557.00,817.27 L557.50,817.29 L558.00,817.31 L558.50,817.33 L559.00,817.36 L559.50,817.38 L560.00,817.40 L560.50,817.42 L561.00,817.44 L561.50,817.46 L562.00,817.48 L562.50,817.50 L563.00,817.52 L563.50,817.54 L564.00,817.56 L564.50,817.58 L565.00,817.60 L565.50,817.63 L566.00,817.65 L566.50,817.67 L567.00,817.69 L567.50,817.71 L568.00,817.73 L568.50,817.75 L569.00,817.77 L569.50,817.79 L570.00,817.81 L570.50,817.83 L571.00,817.85 L571.50,817.87 L572.00,817.90 L572.50,817.92 L573.00,817.94 L573.50,817.96 L574.00,817.98 L574.50,818.00 L575.00,818.02 L575.50,818.04 L576.00,818.06 L576.50,818.08 L577.00,818.10 L577.50,818.12 L578.00,818.14 L578.50,818.16 L579.00,818.19 L579.50,818.21 L580.00,818.23 L580.50,818.25 L581.00,818.27 L581.50,818.29 L582.00,818.31 L582.50,818.33 L583.00,818.35 L583.50,818.37 L584.00,818.39 L584.50,818.41 L585.00,818.43 L585.50,818.46 L586.00,818.48 L586.50,818.50 L587.00,818.52 L587.50,818.54 L588.00,818.56 L588.50,818.58 L589.00,818.60 L589.50,818.62 L590.00,818.64 L590.50,818.66 L591.00,818.68 L591.50,818.70 L592.00,818.73 L592.50,818.75 L593.00,818.77 L593.50,818.79 L594.00,818.81 L594.50,818.83 L595.00,818.85 L595.50,818.87 L596.00,818.89 L596.50,818.91 L597.00,818.93 L597.50,818.95 L598.00,818.97 L598.50,818.99 L599.00,819.02 L599.50,819.04 L600.00,819.06 L600.50,819.08 L601.00,819.10 L601.50,819.12 L602.00,819.14 L602.50,819.16 L603.00,819.18 L603.50,819.20 L604.00,819.22 L604.50,819.24 L605.00,819.26 L605.50,819.29 L606.00,819.31 L606.50,819.33 L607.00,819.35 L607.50,819.37 L608.00,819.39 L608.50,819.41 L609.00,819.43 L609.50,819.45 L610.00,819.47 L610.50,819.49 L611.00,819.51 L611.50,819.53 L612.00,819.56 L612.50,819.58 L613.00,819.60 L613.50,819.62 L614.00,819.64 L614.50,819.66 L615.00,819.68 L615.50,819.70 L616.00,819.72 L616.50,819.74 L617.00,819.76 L617.50,819.78 L618.00,819.80 L618.50,819.82 L619.00,819.85 L619.50,819.87 L620.00,819.89 L620.50,819.91 L621.00,819.93 L621.50,819.95 L622.00,819.97 L622.50,819.99 L623.00,820.01 L623.50,820.03 L624.00,820.05 L624.50,820.07 L625.00,820.09 L625.50,820.12 L626.00,820.14 L626.50,820.16 L627.00,820.18 L627.50,820.20 L628.00,820.22 L628.50,820.24 L629.00,820.26 L629.50,820.28 L630.00,820.30 L630.50,820.32 L631.00,820.34 L631.50,820.36 L632.00,820.39 L632.50,820.41 L633.00,820.43 L633.50,820.45 L634.00,820.47 L634.50,820.49 L635.00,820.51 L635.50,820.53 L636.00,820.55 L636.50,820.57 L637.00,820.59 L637.50,820.61 L638.00,820.63 L638.50,820.65 L639.00,820.68 L639.50,820.70 L640.00,820.72 L640.50,820.74 L641.00,820.76 L641.50,820.78 L642.00,820.80 L642.50,820.82 L643.00,820.84 L643.50,820.86 L644.00,820.88 L644.50,820.90 L645.00,820.92 L645.50,820.95 L646.00,820.97 L646.50,820.99 L647.00,821.01 L647.50,821.03 L648.00,821.05 L648.50,821.07 L649.00,821.09 L649.50,821.11 L650.00,821.13 L650.50,821.15 L651.00,821.17 L651.50,821.19 L652.00,821.22 L652.50,821.24 L653.00,821.26 L653.50,821.28 L654.00,821.30 L654.50,821.32 L655.00,821.34 L655.50,821.36 L656.00,821.38 L656.50,821.40 L657.00,821.42 L657.50,821.44 L658.00,821.46 L658.50,821.48 L659.00,821.51 L659.50,821.53 L660.00,821.55 L660.50,821.57 L661.00,821.59 L661.50,821.61 L662.00,821.63 L662.50,821.65 L663.00,821.67 L663.50,821.69 L664.00,821.71 L664.50,821.73 L665.00,821.75 L665.50,821.78 L666.00,821.80 L666.50,821.82 L667.00,821.84 L667.50,821.86 L668.00,821.88 L668.50,821.90 L669.00,821.92 L669.50,821.94 L670.00,821.96 L670.50,821.98 L671.00,822.00 L671.50,822.02 L672.00,822.05 L672.50,822.07 L673.00,822.09 L673.50,822.11 L673.90,822.12" fill="none" stroke="#00ff00" stroke-width="2.10" stroke-linejoin="round" stroke-linecap="butt" clip-path="url(#ce)"/>
</svg>
</body></html>
